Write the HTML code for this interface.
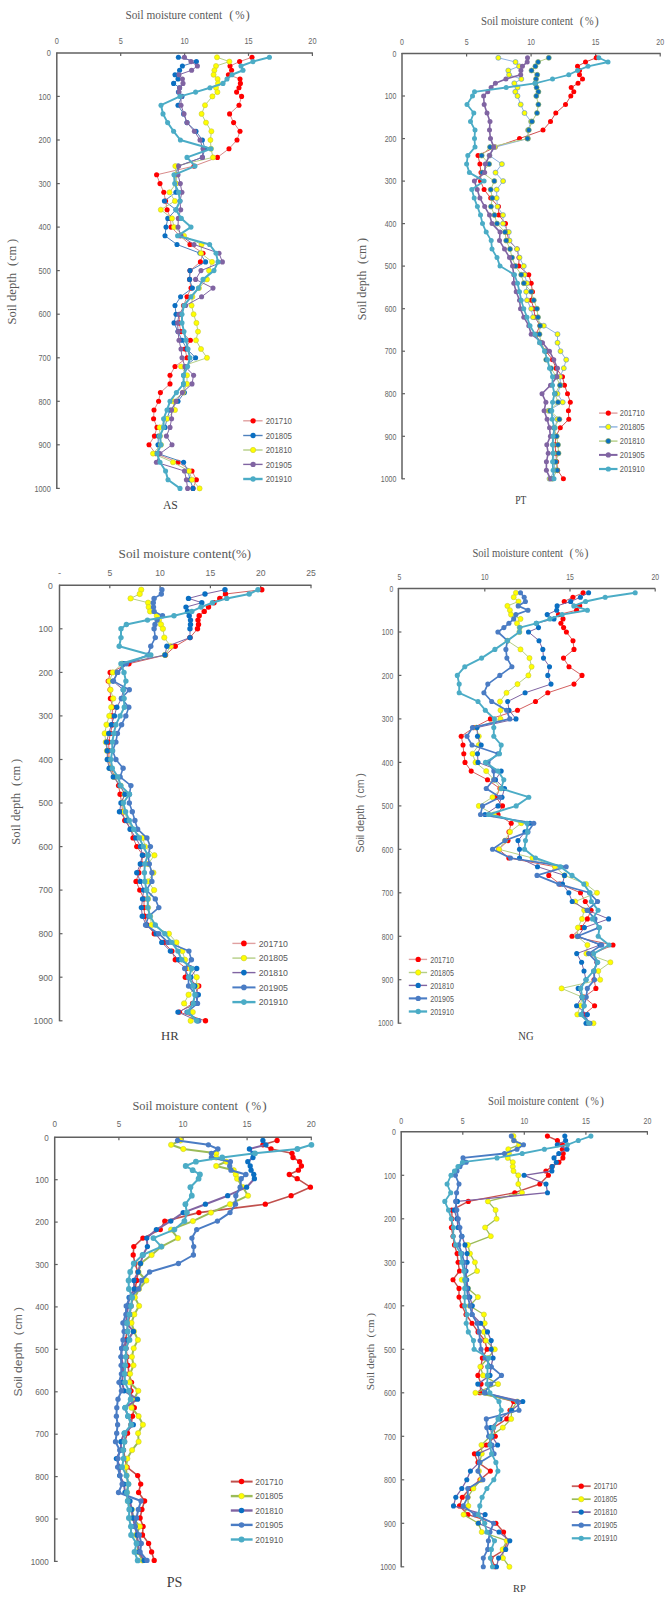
<!DOCTYPE html>
<html><head><meta charset="utf-8"><title>Soil moisture profiles</title>
<style>html,body{margin:0;padding:0;background:#fff;}body{width:665px;height:1600px;overflow:hidden;}svg{display:block;}</style>
</head><body>
<svg width="665" height="1600" viewBox="0 0 665 1600">
<rect width="665" height="1600" fill="#fff"/>
<text x="125.4" y="19.4" font-family='"Liberation Serif", serif' font-size="12.5" fill="#595959" textLength="96.7" lengthAdjust="spacingAndGlyphs">Soil moisture content</text>
<text y="19.4" font-family='"Liberation Serif", serif' font-size="12.8" fill="#595959"><tspan x="229.3">(</tspan><tspan x="235.2" textLength="9.3" lengthAdjust="spacingAndGlyphs">%</tspan><tspan x="245.6">)</tspan></text>
<line x1="56.3" y1="52.9" x2="312.9" y2="52.9" stroke="#606060" stroke-width="1.5"/>
<line x1="56.8" y1="52.4" x2="56.8" y2="488.9" stroke="#606060" stroke-width="1.5"/>
<text x="56.8" y="43.5" font-family='"Liberation Sans", sans-serif' font-size="8.9" fill="#666" text-anchor="middle" textLength="4.1" lengthAdjust="spacingAndGlyphs">0</text>
<line x1="120.7" y1="52.9" x2="120.7" y2="55.9" stroke="#606060" stroke-width="1.2"/>
<text x="120.7" y="43.5" font-family='"Liberation Sans", sans-serif' font-size="8.9" fill="#666" text-anchor="middle" textLength="4.1" lengthAdjust="spacingAndGlyphs">5</text>
<line x1="184.6" y1="52.9" x2="184.6" y2="55.9" stroke="#606060" stroke-width="1.2"/>
<text x="184.6" y="43.5" font-family='"Liberation Sans", sans-serif' font-size="8.9" fill="#666" text-anchor="middle" textLength="8.2" lengthAdjust="spacingAndGlyphs">10</text>
<line x1="248.5" y1="52.9" x2="248.5" y2="55.9" stroke="#606060" stroke-width="1.2"/>
<text x="248.5" y="43.5" font-family='"Liberation Sans", sans-serif' font-size="8.9" fill="#666" text-anchor="middle" textLength="8.2" lengthAdjust="spacingAndGlyphs">15</text>
<line x1="312.4" y1="52.9" x2="312.4" y2="55.9" stroke="#606060" stroke-width="1.2"/>
<text x="312.4" y="43.5" font-family='"Liberation Sans", sans-serif' font-size="8.9" fill="#666" text-anchor="middle" textLength="8.2" lengthAdjust="spacingAndGlyphs">20</text>
<text x="50.8" y="56.1" font-family='"Liberation Sans", sans-serif' font-size="8.9" fill="#666" text-anchor="end" textLength="4.1" lengthAdjust="spacingAndGlyphs">0</text>
<line x1="56.8" y1="96.4" x2="59.8" y2="96.4" stroke="#606060" stroke-width="1.2"/>
<text x="50.8" y="99.6" font-family='"Liberation Sans", sans-serif' font-size="8.9" fill="#666" text-anchor="end" textLength="12.3" lengthAdjust="spacingAndGlyphs">100</text>
<line x1="56.8" y1="140" x2="59.8" y2="140" stroke="#606060" stroke-width="1.2"/>
<text x="50.8" y="143.2" font-family='"Liberation Sans", sans-serif' font-size="8.9" fill="#666" text-anchor="end" textLength="12.3" lengthAdjust="spacingAndGlyphs">200</text>
<line x1="56.8" y1="183.6" x2="59.8" y2="183.6" stroke="#606060" stroke-width="1.2"/>
<text x="50.8" y="186.8" font-family='"Liberation Sans", sans-serif' font-size="8.9" fill="#666" text-anchor="end" textLength="12.3" lengthAdjust="spacingAndGlyphs">300</text>
<line x1="56.8" y1="227.1" x2="59.8" y2="227.1" stroke="#606060" stroke-width="1.2"/>
<text x="50.8" y="230.3" font-family='"Liberation Sans", sans-serif' font-size="8.9" fill="#666" text-anchor="end" textLength="12.3" lengthAdjust="spacingAndGlyphs">400</text>
<line x1="56.8" y1="270.6" x2="59.8" y2="270.6" stroke="#606060" stroke-width="1.2"/>
<text x="50.8" y="273.8" font-family='"Liberation Sans", sans-serif' font-size="8.9" fill="#666" text-anchor="end" textLength="12.3" lengthAdjust="spacingAndGlyphs">500</text>
<line x1="56.8" y1="314.2" x2="59.8" y2="314.2" stroke="#606060" stroke-width="1.2"/>
<text x="50.8" y="317.4" font-family='"Liberation Sans", sans-serif' font-size="8.9" fill="#666" text-anchor="end" textLength="12.3" lengthAdjust="spacingAndGlyphs">600</text>
<line x1="56.8" y1="357.8" x2="59.8" y2="357.8" stroke="#606060" stroke-width="1.2"/>
<text x="50.8" y="360.9" font-family='"Liberation Sans", sans-serif' font-size="8.9" fill="#666" text-anchor="end" textLength="12.3" lengthAdjust="spacingAndGlyphs">700</text>
<line x1="56.8" y1="401.3" x2="59.8" y2="401.3" stroke="#606060" stroke-width="1.2"/>
<text x="50.8" y="404.5" font-family='"Liberation Sans", sans-serif' font-size="8.9" fill="#666" text-anchor="end" textLength="12.3" lengthAdjust="spacingAndGlyphs">800</text>
<line x1="56.8" y1="444.8" x2="59.8" y2="444.8" stroke="#606060" stroke-width="1.2"/>
<text x="50.8" y="448" font-family='"Liberation Sans", sans-serif' font-size="8.9" fill="#666" text-anchor="end" textLength="12.3" lengthAdjust="spacingAndGlyphs">900</text>
<line x1="56.8" y1="488.4" x2="59.8" y2="488.4" stroke="#606060" stroke-width="1.2"/>
<text x="50.8" y="491.6" font-family='"Liberation Sans", sans-serif' font-size="8.9" fill="#666" text-anchor="end" textLength="16.4" lengthAdjust="spacingAndGlyphs">1000</text>
<g transform="translate(16.1,324.6) rotate(-90)" font-family='"Liberation Serif", serif' font-size="12.5" fill="#595959"><text x="0" y="0" textLength="51.7" lengthAdjust="spacingAndGlyphs">Soil depth</text><text x="58.6" y="0">(</text><text x="63.7" y="0" textLength="15" lengthAdjust="spacingAndGlyphs">cm</text><text x="81.6" y="0">)</text></g>
<text x="162.9" y="509" font-family='"Liberation Serif", serif' font-size="12.5" fill="#404040" textLength="15" lengthAdjust="spacingAndGlyphs">AS</text>
<polyline points="252,57.3 239.6,61.6 230,66 231.6,70.3 228.4,74.7 240,79 240.4,83.4 239,87.7 236.6,92.1 241.6,96.4 239,105.2 229.6,113.9 233.6,122.6 240,131.3 237,140 229,148.7 217.4,157.4 194,166.1 156.6,174.8 160,183.6 163.8,192.3 165.6,201 167.1,209.7 170.5,218.4 171,227.1 180,235.8 190,244.5 203,253.2 200.4,261.9 190,270.6 189.6,279.4 191,288.1 187,296.8 183.5,305.5 180,314.2 179,322.9 181,331.6 190.4,340.3 185,349 187,357.8 175,366.5 170,375.2 170,383.9 160.4,392.6 158.6,401.3 154,410 153.6,418.7 157,427.4 154.4,436.1 149,444.8 155.6,453.6 178,462.3 192,471 196.4,479.7 193,488.4" fill="none" stroke="#D88A8A" stroke-width="1" stroke-linejoin="round"/>
<g fill="#FF0000"><circle cx="252" cy="57.3" r="2.55"/><circle cx="239.6" cy="61.6" r="2.55"/><circle cx="230" cy="66" r="2.55"/><circle cx="231.6" cy="70.3" r="2.55"/><circle cx="228.4" cy="74.7" r="2.55"/><circle cx="240" cy="79" r="2.55"/><circle cx="240.4" cy="83.4" r="2.55"/><circle cx="239" cy="87.7" r="2.55"/><circle cx="236.6" cy="92.1" r="2.55"/><circle cx="241.6" cy="96.4" r="2.55"/><circle cx="239" cy="105.2" r="2.55"/><circle cx="229.6" cy="113.9" r="2.55"/><circle cx="233.6" cy="122.6" r="2.55"/><circle cx="240" cy="131.3" r="2.55"/><circle cx="237" cy="140" r="2.55"/><circle cx="229" cy="148.7" r="2.55"/><circle cx="217.4" cy="157.4" r="2.55"/><circle cx="194" cy="166.1" r="2.55"/><circle cx="156.6" cy="174.8" r="2.55"/><circle cx="160" cy="183.6" r="2.55"/><circle cx="163.8" cy="192.3" r="2.55"/><circle cx="165.6" cy="201" r="2.55"/><circle cx="167.1" cy="209.7" r="2.55"/><circle cx="170.5" cy="218.4" r="2.55"/><circle cx="171" cy="227.1" r="2.55"/><circle cx="180" cy="235.8" r="2.55"/><circle cx="190" cy="244.5" r="2.55"/><circle cx="203" cy="253.2" r="2.55"/><circle cx="200.4" cy="261.9" r="2.55"/><circle cx="190" cy="270.6" r="2.55"/><circle cx="189.6" cy="279.4" r="2.55"/><circle cx="191" cy="288.1" r="2.55"/><circle cx="187" cy="296.8" r="2.55"/><circle cx="183.5" cy="305.5" r="2.55"/><circle cx="180" cy="314.2" r="2.55"/><circle cx="179" cy="322.9" r="2.55"/><circle cx="181" cy="331.6" r="2.55"/><circle cx="190.4" cy="340.3" r="2.55"/><circle cx="185" cy="349" r="2.55"/><circle cx="187" cy="357.8" r="2.55"/><circle cx="175" cy="366.5" r="2.55"/><circle cx="170" cy="375.2" r="2.55"/><circle cx="170" cy="383.9" r="2.55"/><circle cx="160.4" cy="392.6" r="2.55"/><circle cx="158.6" cy="401.3" r="2.55"/><circle cx="154" cy="410" r="2.55"/><circle cx="153.6" cy="418.7" r="2.55"/><circle cx="157" cy="427.4" r="2.55"/><circle cx="154.4" cy="436.1" r="2.55"/><circle cx="149" cy="444.8" r="2.55"/><circle cx="155.6" cy="453.6" r="2.55"/><circle cx="178" cy="462.3" r="2.55"/><circle cx="192" cy="471" r="2.55"/><circle cx="196.4" cy="479.7" r="2.55"/><circle cx="193" cy="488.4" r="2.55"/></g>
<polyline points="178.4,57.3 196.4,61.6 182.4,66 179.6,70.3 175,74.7 178,79 173.6,83.4 179.6,87.7 178.4,92.1 182,96.4 178,105.2 183.6,113.9 187,122.6 196,131.3 202.4,140 205,148.7 202.4,157.4 178,166.1 176,174.8 176,183.6 175.9,192.3 164.4,201 176,209.7 167.8,218.4 166,227.1 165,235.8 177,244.5 200,253.2 205.6,261.9 190,270.6 189.6,279.4 192.4,288.1 180.6,296.8 175,305.5 176,314.2 174,322.9 178,331.6 182,340.3 187,349 195.6,357.8 185,366.5 183.6,375.2 183.6,383.9 184.4,392.6 178,401.3 170,410 167,418.7 165,427.4 158.4,436.1 158,444.8 158,453.6 183.6,462.3 188,471 190,479.7 193,488.4" fill="none" stroke="#4F81BD" stroke-width="1" stroke-linejoin="round"/>
<g fill="#0A6FC2"><circle cx="178.4" cy="57.3" r="2.55"/><circle cx="196.4" cy="61.6" r="2.55"/><circle cx="182.4" cy="66" r="2.55"/><circle cx="179.6" cy="70.3" r="2.55"/><circle cx="175" cy="74.7" r="2.55"/><circle cx="178" cy="79" r="2.55"/><circle cx="173.6" cy="83.4" r="2.55"/><circle cx="179.6" cy="87.7" r="2.55"/><circle cx="178.4" cy="92.1" r="2.55"/><circle cx="182" cy="96.4" r="2.55"/><circle cx="178" cy="105.2" r="2.55"/><circle cx="183.6" cy="113.9" r="2.55"/><circle cx="187" cy="122.6" r="2.55"/><circle cx="196" cy="131.3" r="2.55"/><circle cx="202.4" cy="140" r="2.55"/><circle cx="205" cy="148.7" r="2.55"/><circle cx="202.4" cy="157.4" r="2.55"/><circle cx="178" cy="166.1" r="2.55"/><circle cx="176" cy="174.8" r="2.55"/><circle cx="176" cy="183.6" r="2.55"/><circle cx="175.9" cy="192.3" r="2.55"/><circle cx="164.4" cy="201" r="2.55"/><circle cx="176" cy="209.7" r="2.55"/><circle cx="167.8" cy="218.4" r="2.55"/><circle cx="166" cy="227.1" r="2.55"/><circle cx="165" cy="235.8" r="2.55"/><circle cx="177" cy="244.5" r="2.55"/><circle cx="200" cy="253.2" r="2.55"/><circle cx="205.6" cy="261.9" r="2.55"/><circle cx="190" cy="270.6" r="2.55"/><circle cx="189.6" cy="279.4" r="2.55"/><circle cx="192.4" cy="288.1" r="2.55"/><circle cx="180.6" cy="296.8" r="2.55"/><circle cx="175" cy="305.5" r="2.55"/><circle cx="176" cy="314.2" r="2.55"/><circle cx="174" cy="322.9" r="2.55"/><circle cx="178" cy="331.6" r="2.55"/><circle cx="182" cy="340.3" r="2.55"/><circle cx="187" cy="349" r="2.55"/><circle cx="195.6" cy="357.8" r="2.55"/><circle cx="185" cy="366.5" r="2.55"/><circle cx="183.6" cy="375.2" r="2.55"/><circle cx="183.6" cy="383.9" r="2.55"/><circle cx="184.4" cy="392.6" r="2.55"/><circle cx="178" cy="401.3" r="2.55"/><circle cx="170" cy="410" r="2.55"/><circle cx="167" cy="418.7" r="2.55"/><circle cx="165" cy="427.4" r="2.55"/><circle cx="158.4" cy="436.1" r="2.55"/><circle cx="158" cy="444.8" r="2.55"/><circle cx="158" cy="453.6" r="2.55"/><circle cx="183.6" cy="462.3" r="2.55"/><circle cx="188" cy="471" r="2.55"/><circle cx="190" cy="479.7" r="2.55"/><circle cx="193" cy="488.4" r="2.55"/></g>
<polyline points="217,57.3 229.4,61.6 216,66 214.4,70.3 213.6,74.7 217.6,79 218,83.4 216,87.7 217.4,92.1 212.4,96.4 205,105.2 201.6,113.9 206,122.6 211.4,131.3 210.4,140 211,148.7 213,157.4 175.3,166.1 176,174.8 176,183.6 169.5,192.3 174.9,201 160.8,209.7 172,218.4 174,227.1 184,235.8 201.6,244.5 201,253.2 212,261.9 209,270.6 207,279.4 199,288.1 192.4,296.8 191.6,305.5 193.6,314.2 196.4,322.9 198,331.6 196,340.3 201,349 207,357.8 181,366.5 187,375.2 187,383.9 183,392.6 173,401.3 175,410 167,418.7 159.6,427.4 160,436.1 161,444.8 153,453.6 173,462.3 189,471 192,479.7 199.6,488.4" fill="none" stroke="#B5CF86" stroke-width="1" stroke-linejoin="round"/>
<g fill="#FFFF00" stroke="#C9C93A" stroke-width="0.6"><circle cx="217" cy="57.3" r="2.55"/><circle cx="229.4" cy="61.6" r="2.55"/><circle cx="216" cy="66" r="2.55"/><circle cx="214.4" cy="70.3" r="2.55"/><circle cx="213.6" cy="74.7" r="2.55"/><circle cx="217.6" cy="79" r="2.55"/><circle cx="218" cy="83.4" r="2.55"/><circle cx="216" cy="87.7" r="2.55"/><circle cx="217.4" cy="92.1" r="2.55"/><circle cx="212.4" cy="96.4" r="2.55"/><circle cx="205" cy="105.2" r="2.55"/><circle cx="201.6" cy="113.9" r="2.55"/><circle cx="206" cy="122.6" r="2.55"/><circle cx="211.4" cy="131.3" r="2.55"/><circle cx="210.4" cy="140" r="2.55"/><circle cx="211" cy="148.7" r="2.55"/><circle cx="213" cy="157.4" r="2.55"/><circle cx="175.3" cy="166.1" r="2.55"/><circle cx="176" cy="174.8" r="2.55"/><circle cx="176" cy="183.6" r="2.55"/><circle cx="169.5" cy="192.3" r="2.55"/><circle cx="174.9" cy="201" r="2.55"/><circle cx="160.8" cy="209.7" r="2.55"/><circle cx="172" cy="218.4" r="2.55"/><circle cx="174" cy="227.1" r="2.55"/><circle cx="184" cy="235.8" r="2.55"/><circle cx="201.6" cy="244.5" r="2.55"/><circle cx="201" cy="253.2" r="2.55"/><circle cx="212" cy="261.9" r="2.55"/><circle cx="209" cy="270.6" r="2.55"/><circle cx="207" cy="279.4" r="2.55"/><circle cx="199" cy="288.1" r="2.55"/><circle cx="192.4" cy="296.8" r="2.55"/><circle cx="191.6" cy="305.5" r="2.55"/><circle cx="193.6" cy="314.2" r="2.55"/><circle cx="196.4" cy="322.9" r="2.55"/><circle cx="198" cy="331.6" r="2.55"/><circle cx="196" cy="340.3" r="2.55"/><circle cx="201" cy="349" r="2.55"/><circle cx="207" cy="357.8" r="2.55"/><circle cx="181" cy="366.5" r="2.55"/><circle cx="187" cy="375.2" r="2.55"/><circle cx="187" cy="383.9" r="2.55"/><circle cx="183" cy="392.6" r="2.55"/><circle cx="173" cy="401.3" r="2.55"/><circle cx="175" cy="410" r="2.55"/><circle cx="167" cy="418.7" r="2.55"/><circle cx="159.6" cy="427.4" r="2.55"/><circle cx="160" cy="436.1" r="2.55"/><circle cx="161" cy="444.8" r="2.55"/><circle cx="153" cy="453.6" r="2.55"/><circle cx="173" cy="462.3" r="2.55"/><circle cx="189" cy="471" r="2.55"/><circle cx="192" cy="479.7" r="2.55"/><circle cx="199.6" cy="488.4" r="2.55"/></g>
<polyline points="184.4,57.3 191,61.6 197.4,66 191.6,70.3 179,74.7 182.4,79 183,83.4 179.6,87.7 179,92.1 181,96.4 181,105.2 184,113.9 187,122.6 194.4,131.3 200,140 203,148.7 202.4,157.4 178.6,166.1 178,174.8 180.3,183.6 181.9,192.3 180,201 180.7,209.7 178.3,218.4 178,227.1 181,235.8 194,244.5 219,253.2 222.4,261.9 201,270.6 195.6,279.4 213,288.1 201.6,296.8 185.6,305.5 179,314.2 177.6,322.9 178,331.6 179,340.3 181,349 182,357.8 185,366.5 193.6,375.2 192,383.9 182.4,392.6 176,401.3 171.6,410 171.6,418.7 170,427.4 166.4,436.1 172,444.8 160,453.6 156.4,462.3 184.4,471 186.4,479.7 187.6,488.4" fill="none" stroke="#8064A2" stroke-width="1" stroke-linejoin="round"/>
<g fill="#8064A2"><circle cx="184.4" cy="57.3" r="2.55"/><circle cx="191" cy="61.6" r="2.55"/><circle cx="197.4" cy="66" r="2.55"/><circle cx="191.6" cy="70.3" r="2.55"/><circle cx="179" cy="74.7" r="2.55"/><circle cx="182.4" cy="79" r="2.55"/><circle cx="183" cy="83.4" r="2.55"/><circle cx="179.6" cy="87.7" r="2.55"/><circle cx="179" cy="92.1" r="2.55"/><circle cx="181" cy="96.4" r="2.55"/><circle cx="181" cy="105.2" r="2.55"/><circle cx="184" cy="113.9" r="2.55"/><circle cx="187" cy="122.6" r="2.55"/><circle cx="194.4" cy="131.3" r="2.55"/><circle cx="200" cy="140" r="2.55"/><circle cx="203" cy="148.7" r="2.55"/><circle cx="202.4" cy="157.4" r="2.55"/><circle cx="178.6" cy="166.1" r="2.55"/><circle cx="178" cy="174.8" r="2.55"/><circle cx="180.3" cy="183.6" r="2.55"/><circle cx="181.9" cy="192.3" r="2.55"/><circle cx="180" cy="201" r="2.55"/><circle cx="180.7" cy="209.7" r="2.55"/><circle cx="178.3" cy="218.4" r="2.55"/><circle cx="178" cy="227.1" r="2.55"/><circle cx="181" cy="235.8" r="2.55"/><circle cx="194" cy="244.5" r="2.55"/><circle cx="219" cy="253.2" r="2.55"/><circle cx="222.4" cy="261.9" r="2.55"/><circle cx="201" cy="270.6" r="2.55"/><circle cx="195.6" cy="279.4" r="2.55"/><circle cx="213" cy="288.1" r="2.55"/><circle cx="201.6" cy="296.8" r="2.55"/><circle cx="185.6" cy="305.5" r="2.55"/><circle cx="179" cy="314.2" r="2.55"/><circle cx="177.6" cy="322.9" r="2.55"/><circle cx="178" cy="331.6" r="2.55"/><circle cx="179" cy="340.3" r="2.55"/><circle cx="181" cy="349" r="2.55"/><circle cx="182" cy="357.8" r="2.55"/><circle cx="185" cy="366.5" r="2.55"/><circle cx="193.6" cy="375.2" r="2.55"/><circle cx="192" cy="383.9" r="2.55"/><circle cx="182.4" cy="392.6" r="2.55"/><circle cx="176" cy="401.3" r="2.55"/><circle cx="171.6" cy="410" r="2.55"/><circle cx="171.6" cy="418.7" r="2.55"/><circle cx="170" cy="427.4" r="2.55"/><circle cx="166.4" cy="436.1" r="2.55"/><circle cx="172" cy="444.8" r="2.55"/><circle cx="160" cy="453.6" r="2.55"/><circle cx="156.4" cy="462.3" r="2.55"/><circle cx="184.4" cy="471" r="2.55"/><circle cx="186.4" cy="479.7" r="2.55"/><circle cx="187.6" cy="488.4" r="2.55"/></g>
<polyline points="269.4,57.3 253,61.6 241,66 243,70.3 232,74.7 227,79 223,83.4 210,87.7 195.6,92.1 180,96.4 161,105.2 163,113.9 167.6,122.6 173.6,131.3 180.4,140 211,148.7 187,157.4 195,166.1 174,174.8 174.7,183.6 178.6,192.3 180,201 175.9,209.7 181.3,218.4 191,227.1 177.6,235.8 209.6,244.5 216,253.2 218,261.9 214,270.6 203,279.4 198.4,288.1 191,296.8 184,305.5 182,314.2 182,322.9 184,331.6 186,340.3 188,349 190,357.8 187.6,366.5 183.6,375.2 183.6,383.9 176.4,392.6 170,401.3 167,410 163.6,418.7 163.6,427.4 160,436.1 161,444.8 157,453.6 160,462.3 165.6,471 168,479.7 180,488.4" fill="none" stroke="#4BACC6" stroke-width="2" stroke-linejoin="round"/>
<g fill="#4BACC6"><circle cx="269.4" cy="57.3" r="2.55"/><circle cx="253" cy="61.6" r="2.55"/><circle cx="241" cy="66" r="2.55"/><circle cx="243" cy="70.3" r="2.55"/><circle cx="232" cy="74.7" r="2.55"/><circle cx="227" cy="79" r="2.55"/><circle cx="223" cy="83.4" r="2.55"/><circle cx="210" cy="87.7" r="2.55"/><circle cx="195.6" cy="92.1" r="2.55"/><circle cx="180" cy="96.4" r="2.55"/><circle cx="161" cy="105.2" r="2.55"/><circle cx="163" cy="113.9" r="2.55"/><circle cx="167.6" cy="122.6" r="2.55"/><circle cx="173.6" cy="131.3" r="2.55"/><circle cx="180.4" cy="140" r="2.55"/><circle cx="211" cy="148.7" r="2.55"/><circle cx="187" cy="157.4" r="2.55"/><circle cx="195" cy="166.1" r="2.55"/><circle cx="174" cy="174.8" r="2.55"/><circle cx="174.7" cy="183.6" r="2.55"/><circle cx="178.6" cy="192.3" r="2.55"/><circle cx="180" cy="201" r="2.55"/><circle cx="175.9" cy="209.7" r="2.55"/><circle cx="181.3" cy="218.4" r="2.55"/><circle cx="191" cy="227.1" r="2.55"/><circle cx="177.6" cy="235.8" r="2.55"/><circle cx="209.6" cy="244.5" r="2.55"/><circle cx="216" cy="253.2" r="2.55"/><circle cx="218" cy="261.9" r="2.55"/><circle cx="214" cy="270.6" r="2.55"/><circle cx="203" cy="279.4" r="2.55"/><circle cx="198.4" cy="288.1" r="2.55"/><circle cx="191" cy="296.8" r="2.55"/><circle cx="184" cy="305.5" r="2.55"/><circle cx="182" cy="314.2" r="2.55"/><circle cx="182" cy="322.9" r="2.55"/><circle cx="184" cy="331.6" r="2.55"/><circle cx="186" cy="340.3" r="2.55"/><circle cx="188" cy="349" r="2.55"/><circle cx="190" cy="357.8" r="2.55"/><circle cx="187.6" cy="366.5" r="2.55"/><circle cx="183.6" cy="375.2" r="2.55"/><circle cx="183.6" cy="383.9" r="2.55"/><circle cx="176.4" cy="392.6" r="2.55"/><circle cx="170" cy="401.3" r="2.55"/><circle cx="167" cy="410" r="2.55"/><circle cx="163.6" cy="418.7" r="2.55"/><circle cx="163.6" cy="427.4" r="2.55"/><circle cx="160" cy="436.1" r="2.55"/><circle cx="161" cy="444.8" r="2.55"/><circle cx="157" cy="453.6" r="2.55"/><circle cx="160" cy="462.3" r="2.55"/><circle cx="165.6" cy="471" r="2.55"/><circle cx="168" cy="479.7" r="2.55"/><circle cx="180" cy="488.4" r="2.55"/></g>
<line x1="243.2" y1="420.8" x2="262.6" y2="420.8" stroke="#E0A0A0" stroke-width="1.4"/>
<circle cx="253.1" cy="420.8" r="2.65" fill="#FF0000"/>
<text x="265.7" y="423.9" font-family='"Liberation Sans", sans-serif' font-size="9" fill="#595959" textLength="26.2" lengthAdjust="spacingAndGlyphs">201710</text>
<line x1="243.2" y1="435.5" x2="262.6" y2="435.5" stroke="#4F81BD" stroke-width="1.4"/>
<circle cx="253.1" cy="435.5" r="2.65" fill="#0A6FC2"/>
<text x="265.7" y="438.6" font-family='"Liberation Sans", sans-serif' font-size="9" fill="#595959" textLength="26.2" lengthAdjust="spacingAndGlyphs">201805</text>
<line x1="243.2" y1="450" x2="262.6" y2="450" stroke="#B5CF86" stroke-width="1.4"/>
<circle cx="253.1" cy="450" r="2.65" fill="#FFFF00" stroke="#C9C93A" stroke-width="0.6"/>
<text x="265.7" y="453.1" font-family='"Liberation Sans", sans-serif' font-size="9" fill="#595959" textLength="26.2" lengthAdjust="spacingAndGlyphs">201810</text>
<line x1="243.2" y1="464.4" x2="262.6" y2="464.4" stroke="#8064A2" stroke-width="1.4"/>
<circle cx="253.1" cy="464.4" r="2.65" fill="#8064A2"/>
<text x="265.7" y="467.5" font-family='"Liberation Sans", sans-serif' font-size="9" fill="#595959" textLength="26.2" lengthAdjust="spacingAndGlyphs">201905</text>
<line x1="243.2" y1="479" x2="262.6" y2="479" stroke="#4BACC6" stroke-width="2.4"/>
<circle cx="253.1" cy="479" r="2.65" fill="#4BACC6"/>
<text x="265.7" y="482.1" font-family='"Liberation Sans", sans-serif' font-size="9" fill="#595959" textLength="26.2" lengthAdjust="spacingAndGlyphs">201910</text>
<text x="481" y="25" font-family='"Liberation Serif", serif' font-size="11.7" fill="#595959" textLength="92" lengthAdjust="spacingAndGlyphs">Soil moisture content</text>
<text y="25" font-family='"Liberation Serif", serif' font-size="11.9" fill="#595959"><tspan x="579.7">(</tspan><tspan x="585.1" textLength="8.6" lengthAdjust="spacingAndGlyphs">%</tspan><tspan x="594.8">)</tspan></text>
<line x1="401.5" y1="53.5" x2="660.7" y2="53.5" stroke="#606060" stroke-width="1.5"/>
<line x1="402" y1="53" x2="402" y2="479.3" stroke="#606060" stroke-width="1.5"/>
<text x="402" y="44.5" font-family='"Liberation Sans", sans-serif' font-size="8.6" fill="#666" text-anchor="middle" textLength="3.9" lengthAdjust="spacingAndGlyphs">0</text>
<line x1="466.6" y1="53.5" x2="466.6" y2="56.5" stroke="#606060" stroke-width="1.2"/>
<text x="466.6" y="44.5" font-family='"Liberation Sans", sans-serif' font-size="8.6" fill="#666" text-anchor="middle" textLength="3.9" lengthAdjust="spacingAndGlyphs">5</text>
<line x1="531.1" y1="53.5" x2="531.1" y2="56.5" stroke="#606060" stroke-width="1.2"/>
<text x="531.1" y="44.5" font-family='"Liberation Sans", sans-serif' font-size="8.6" fill="#666" text-anchor="middle" textLength="7.8" lengthAdjust="spacingAndGlyphs">10</text>
<line x1="595.6" y1="53.5" x2="595.6" y2="56.5" stroke="#606060" stroke-width="1.2"/>
<text x="595.6" y="44.5" font-family='"Liberation Sans", sans-serif' font-size="8.6" fill="#666" text-anchor="middle" textLength="7.8" lengthAdjust="spacingAndGlyphs">15</text>
<line x1="660.2" y1="53.5" x2="660.2" y2="56.5" stroke="#606060" stroke-width="1.2"/>
<text x="660.2" y="44.5" font-family='"Liberation Sans", sans-serif' font-size="8.6" fill="#666" text-anchor="middle" textLength="7.8" lengthAdjust="spacingAndGlyphs">20</text>
<text x="396.4" y="56.7" font-family='"Liberation Sans", sans-serif' font-size="8.6" fill="#666" text-anchor="end" textLength="3.9" lengthAdjust="spacingAndGlyphs">0</text>
<line x1="402" y1="96" x2="405" y2="96" stroke="#606060" stroke-width="1.2"/>
<text x="396.4" y="99.2" font-family='"Liberation Sans", sans-serif' font-size="8.6" fill="#666" text-anchor="end" textLength="11.7" lengthAdjust="spacingAndGlyphs">100</text>
<line x1="402" y1="138.6" x2="405" y2="138.6" stroke="#606060" stroke-width="1.2"/>
<text x="396.4" y="141.8" font-family='"Liberation Sans", sans-serif' font-size="8.6" fill="#666" text-anchor="end" textLength="11.7" lengthAdjust="spacingAndGlyphs">200</text>
<line x1="402" y1="181.1" x2="405" y2="181.1" stroke="#606060" stroke-width="1.2"/>
<text x="396.4" y="184.3" font-family='"Liberation Sans", sans-serif' font-size="8.6" fill="#666" text-anchor="end" textLength="11.7" lengthAdjust="spacingAndGlyphs">300</text>
<line x1="402" y1="223.6" x2="405" y2="223.6" stroke="#606060" stroke-width="1.2"/>
<text x="396.4" y="226.8" font-family='"Liberation Sans", sans-serif' font-size="8.6" fill="#666" text-anchor="end" textLength="11.7" lengthAdjust="spacingAndGlyphs">400</text>
<line x1="402" y1="266.1" x2="405" y2="266.1" stroke="#606060" stroke-width="1.2"/>
<text x="396.4" y="269.3" font-family='"Liberation Sans", sans-serif' font-size="8.6" fill="#666" text-anchor="end" textLength="11.7" lengthAdjust="spacingAndGlyphs">500</text>
<line x1="402" y1="308.7" x2="405" y2="308.7" stroke="#606060" stroke-width="1.2"/>
<text x="396.4" y="311.9" font-family='"Liberation Sans", sans-serif' font-size="8.6" fill="#666" text-anchor="end" textLength="11.7" lengthAdjust="spacingAndGlyphs">600</text>
<line x1="402" y1="351.2" x2="405" y2="351.2" stroke="#606060" stroke-width="1.2"/>
<text x="396.4" y="354.4" font-family='"Liberation Sans", sans-serif' font-size="8.6" fill="#666" text-anchor="end" textLength="11.7" lengthAdjust="spacingAndGlyphs">700</text>
<line x1="402" y1="393.7" x2="405" y2="393.7" stroke="#606060" stroke-width="1.2"/>
<text x="396.4" y="396.9" font-family='"Liberation Sans", sans-serif' font-size="8.6" fill="#666" text-anchor="end" textLength="11.7" lengthAdjust="spacingAndGlyphs">800</text>
<line x1="402" y1="436.3" x2="405" y2="436.3" stroke="#606060" stroke-width="1.2"/>
<text x="396.4" y="439.5" font-family='"Liberation Sans", sans-serif' font-size="8.6" fill="#666" text-anchor="end" textLength="11.7" lengthAdjust="spacingAndGlyphs">900</text>
<line x1="402" y1="478.8" x2="405" y2="478.8" stroke="#606060" stroke-width="1.2"/>
<text x="396.4" y="482" font-family='"Liberation Sans", sans-serif' font-size="8.6" fill="#666" text-anchor="end" textLength="15.6" lengthAdjust="spacingAndGlyphs">1000</text>
<g transform="translate(365.9,320.2) rotate(-90)" font-family='"Liberation Serif", serif' font-size="12" fill="#595959"><text x="0" y="0" textLength="49.5" lengthAdjust="spacingAndGlyphs">Soil depth</text><text x="56.1" y="0">(</text><text x="61" y="0" textLength="14.4" lengthAdjust="spacingAndGlyphs">cm</text><text x="78.1" y="0">)</text></g>
<text x="515.3" y="504" font-family='"Liberation Serif", serif' font-size="11.5" fill="#404040" textLength="11" lengthAdjust="spacingAndGlyphs">PT</text>
<polyline points="596.2,57.8 585.5,62 577.5,66.3 579.5,70.5 579.5,74.8 582.5,79 578,83.3 571.2,87.5 573.8,91.8 570.8,96 565.5,104.5 555.8,113 550.5,121.5 543,130.1 519.5,138.6 495,147.1 478,155.6 479.9,164.1 481,172.6 480.5,181.1 484.1,189.6 490.7,198.1 498.5,206.6 498.8,215.1 505.5,223.6 507,232.1 508.8,240.6 517,249.1 519,257.6 518.8,266.1 528.8,274.7 531.2,283.2 532.5,291.7 531.2,300.2 533.8,308.7 535,317.2 540,325.7 536,334.2 540,342.7 546,351.2 552.5,359.7 556,368.2 562.5,376.7 564.5,385.2 567.5,393.7 570.3,402.2 568.4,410.8 568.8,419.3 560.3,427.8 555.8,436.3 555,444.8 555.8,453.3 556.7,461.8 557.6,470.3 563.4,478.8" fill="none" stroke="#D05050" stroke-width="1" stroke-linejoin="round"/>
<g fill="#FF0000"><circle cx="596.2" cy="57.8" r="2.5"/><circle cx="585.5" cy="62" r="2.5"/><circle cx="577.5" cy="66.3" r="2.5"/><circle cx="579.5" cy="70.5" r="2.5"/><circle cx="579.5" cy="74.8" r="2.5"/><circle cx="582.5" cy="79" r="2.5"/><circle cx="578" cy="83.3" r="2.5"/><circle cx="571.2" cy="87.5" r="2.5"/><circle cx="573.8" cy="91.8" r="2.5"/><circle cx="570.8" cy="96" r="2.5"/><circle cx="565.5" cy="104.5" r="2.5"/><circle cx="555.8" cy="113" r="2.5"/><circle cx="550.5" cy="121.5" r="2.5"/><circle cx="543" cy="130.1" r="2.5"/><circle cx="519.5" cy="138.6" r="2.5"/><circle cx="495" cy="147.1" r="2.5"/><circle cx="478" cy="155.6" r="2.5"/><circle cx="479.9" cy="164.1" r="2.5"/><circle cx="481" cy="172.6" r="2.5"/><circle cx="480.5" cy="181.1" r="2.5"/><circle cx="484.1" cy="189.6" r="2.5"/><circle cx="490.7" cy="198.1" r="2.5"/><circle cx="498.5" cy="206.6" r="2.5"/><circle cx="498.8" cy="215.1" r="2.5"/><circle cx="505.5" cy="223.6" r="2.5"/><circle cx="507" cy="232.1" r="2.5"/><circle cx="508.8" cy="240.6" r="2.5"/><circle cx="517" cy="249.1" r="2.5"/><circle cx="519" cy="257.6" r="2.5"/><circle cx="518.8" cy="266.1" r="2.5"/><circle cx="528.8" cy="274.7" r="2.5"/><circle cx="531.2" cy="283.2" r="2.5"/><circle cx="532.5" cy="291.7" r="2.5"/><circle cx="531.2" cy="300.2" r="2.5"/><circle cx="533.8" cy="308.7" r="2.5"/><circle cx="535" cy="317.2" r="2.5"/><circle cx="540" cy="325.7" r="2.5"/><circle cx="536" cy="334.2" r="2.5"/><circle cx="540" cy="342.7" r="2.5"/><circle cx="546" cy="351.2" r="2.5"/><circle cx="552.5" cy="359.7" r="2.5"/><circle cx="556" cy="368.2" r="2.5"/><circle cx="562.5" cy="376.7" r="2.5"/><circle cx="564.5" cy="385.2" r="2.5"/><circle cx="567.5" cy="393.7" r="2.5"/><circle cx="570.3" cy="402.2" r="2.5"/><circle cx="568.4" cy="410.8" r="2.5"/><circle cx="568.8" cy="419.3" r="2.5"/><circle cx="560.3" cy="427.8" r="2.5"/><circle cx="555.8" cy="436.3" r="2.5"/><circle cx="555" cy="444.8" r="2.5"/><circle cx="555.8" cy="453.3" r="2.5"/><circle cx="556.7" cy="461.8" r="2.5"/><circle cx="557.6" cy="470.3" r="2.5"/><circle cx="563.4" cy="478.8" r="2.5"/></g>
<polyline points="498.3,57.8 515.5,62 519.1,66.3 508.3,70.5 509.1,74.8 521.3,79 514.3,83.3 517.5,87.5 515.3,91.8 517.5,96 520.7,104.5 524.5,113 531,121.5 528,130.1 528,138.6 495,147.1 489.5,155.6 501.9,164.1 495.5,172.6 503.1,181.1 496.7,189.6 496.7,198.1 497.5,206.6 503,215.1 503,223.6 508.8,232.1 509.5,240.6 517,249.1 519.5,257.6 523.8,266.1 524.5,274.7 527,283.2 526.2,291.7 527,300.2 531.2,308.7 533,317.2 543.8,325.7 557.5,334.2 557.5,342.7 560.5,351.2 566.2,359.7 563.8,368.2 560,376.7 560.5,385.2 557.5,393.7 562.7,402.2 548.2,410.8 557.3,419.3 555,427.8 554,436.3 553,444.8 553.5,453.3 554,461.8 555,470.3 549.5,478.8" fill="none" stroke="#8DB3E2" stroke-width="1" stroke-linejoin="round"/>
<g fill="#FFFF00" stroke="#5B8BD0" stroke-width="0.6"><circle cx="498.3" cy="57.8" r="2.5"/><circle cx="515.5" cy="62" r="2.5"/><circle cx="519.1" cy="66.3" r="2.5"/><circle cx="508.3" cy="70.5" r="2.5"/><circle cx="509.1" cy="74.8" r="2.5"/><circle cx="521.3" cy="79" r="2.5"/><circle cx="514.3" cy="83.3" r="2.5"/><circle cx="517.5" cy="87.5" r="2.5"/><circle cx="515.3" cy="91.8" r="2.5"/><circle cx="517.5" cy="96" r="2.5"/><circle cx="520.7" cy="104.5" r="2.5"/><circle cx="524.5" cy="113" r="2.5"/><circle cx="531" cy="121.5" r="2.5"/><circle cx="528" cy="130.1" r="2.5"/><circle cx="528" cy="138.6" r="2.5"/><circle cx="495" cy="147.1" r="2.5"/><circle cx="489.5" cy="155.6" r="2.5"/><circle cx="501.9" cy="164.1" r="2.5"/><circle cx="495.5" cy="172.6" r="2.5"/><circle cx="503.1" cy="181.1" r="2.5"/><circle cx="496.7" cy="189.6" r="2.5"/><circle cx="496.7" cy="198.1" r="2.5"/><circle cx="497.5" cy="206.6" r="2.5"/><circle cx="503" cy="215.1" r="2.5"/><circle cx="503" cy="223.6" r="2.5"/><circle cx="508.8" cy="232.1" r="2.5"/><circle cx="509.5" cy="240.6" r="2.5"/><circle cx="517" cy="249.1" r="2.5"/><circle cx="519.5" cy="257.6" r="2.5"/><circle cx="523.8" cy="266.1" r="2.5"/><circle cx="524.5" cy="274.7" r="2.5"/><circle cx="527" cy="283.2" r="2.5"/><circle cx="526.2" cy="291.7" r="2.5"/><circle cx="527" cy="300.2" r="2.5"/><circle cx="531.2" cy="308.7" r="2.5"/><circle cx="533" cy="317.2" r="2.5"/><circle cx="543.8" cy="325.7" r="2.5"/><circle cx="557.5" cy="334.2" r="2.5"/><circle cx="557.5" cy="342.7" r="2.5"/><circle cx="560.5" cy="351.2" r="2.5"/><circle cx="566.2" cy="359.7" r="2.5"/><circle cx="563.8" cy="368.2" r="2.5"/><circle cx="560" cy="376.7" r="2.5"/><circle cx="560.5" cy="385.2" r="2.5"/><circle cx="557.5" cy="393.7" r="2.5"/><circle cx="562.7" cy="402.2" r="2.5"/><circle cx="548.2" cy="410.8" r="2.5"/><circle cx="557.3" cy="419.3" r="2.5"/><circle cx="555" cy="427.8" r="2.5"/><circle cx="554" cy="436.3" r="2.5"/><circle cx="553" cy="444.8" r="2.5"/><circle cx="553.5" cy="453.3" r="2.5"/><circle cx="554" cy="461.8" r="2.5"/><circle cx="555" cy="470.3" r="2.5"/><circle cx="549.5" cy="478.8" r="2.5"/></g>
<polyline points="548.8,57.8 538.1,62 535.4,66.3 531.5,70.5 537.2,74.8 536,79 535.4,83.3 536.6,87.5 538.4,91.8 536.3,96 538.4,104.5 537,113 532,121.5 528.8,130.1 527.5,138.6 490,147.1 481.7,155.6 489.1,164.1 482.3,172.6 494.3,181.1 490.7,189.6 492.3,198.1 491,206.6 494.5,215.1 497,223.6 505,232.1 506.2,240.6 510,249.1 512,257.6 515.5,266.1 521.2,274.7 523.8,283.2 531.2,291.7 533.8,300.2 537,308.7 538,317.2 540,325.7 539.5,334.2 541,342.7 545.5,351.2 546.2,359.7 551,368.2 556.2,376.7 560,385.2 555,393.7 558,402.2 550,410.8 559.4,419.3 554,427.8 556.7,436.3 558,444.8 558.5,453.3 555.8,461.8 557.3,470.3 552.2,478.8" fill="none" stroke="#B5CF86" stroke-width="1" stroke-linejoin="round"/>
<g fill="#0A6FC2" stroke="#8AA84A" stroke-width="0.6"><circle cx="548.8" cy="57.8" r="2.5"/><circle cx="538.1" cy="62" r="2.5"/><circle cx="535.4" cy="66.3" r="2.5"/><circle cx="531.5" cy="70.5" r="2.5"/><circle cx="537.2" cy="74.8" r="2.5"/><circle cx="536" cy="79" r="2.5"/><circle cx="535.4" cy="83.3" r="2.5"/><circle cx="536.6" cy="87.5" r="2.5"/><circle cx="538.4" cy="91.8" r="2.5"/><circle cx="536.3" cy="96" r="2.5"/><circle cx="538.4" cy="104.5" r="2.5"/><circle cx="537" cy="113" r="2.5"/><circle cx="532" cy="121.5" r="2.5"/><circle cx="528.8" cy="130.1" r="2.5"/><circle cx="527.5" cy="138.6" r="2.5"/><circle cx="490" cy="147.1" r="2.5"/><circle cx="481.7" cy="155.6" r="2.5"/><circle cx="489.1" cy="164.1" r="2.5"/><circle cx="482.3" cy="172.6" r="2.5"/><circle cx="494.3" cy="181.1" r="2.5"/><circle cx="490.7" cy="189.6" r="2.5"/><circle cx="492.3" cy="198.1" r="2.5"/><circle cx="491" cy="206.6" r="2.5"/><circle cx="494.5" cy="215.1" r="2.5"/><circle cx="497" cy="223.6" r="2.5"/><circle cx="505" cy="232.1" r="2.5"/><circle cx="506.2" cy="240.6" r="2.5"/><circle cx="510" cy="249.1" r="2.5"/><circle cx="512" cy="257.6" r="2.5"/><circle cx="515.5" cy="266.1" r="2.5"/><circle cx="521.2" cy="274.7" r="2.5"/><circle cx="523.8" cy="283.2" r="2.5"/><circle cx="531.2" cy="291.7" r="2.5"/><circle cx="533.8" cy="300.2" r="2.5"/><circle cx="537" cy="308.7" r="2.5"/><circle cx="538" cy="317.2" r="2.5"/><circle cx="540" cy="325.7" r="2.5"/><circle cx="539.5" cy="334.2" r="2.5"/><circle cx="541" cy="342.7" r="2.5"/><circle cx="545.5" cy="351.2" r="2.5"/><circle cx="546.2" cy="359.7" r="2.5"/><circle cx="551" cy="368.2" r="2.5"/><circle cx="556.2" cy="376.7" r="2.5"/><circle cx="560" cy="385.2" r="2.5"/><circle cx="555" cy="393.7" r="2.5"/><circle cx="558" cy="402.2" r="2.5"/><circle cx="550" cy="410.8" r="2.5"/><circle cx="559.4" cy="419.3" r="2.5"/><circle cx="554" cy="427.8" r="2.5"/><circle cx="556.7" cy="436.3" r="2.5"/><circle cx="558" cy="444.8" r="2.5"/><circle cx="558.5" cy="453.3" r="2.5"/><circle cx="555.8" cy="461.8" r="2.5"/><circle cx="557.3" cy="470.3" r="2.5"/><circle cx="552.2" cy="478.8" r="2.5"/></g>
<polyline points="527.5,57.8 527.2,62 522.4,66.3 520.9,70.5 520.7,74.8 505.9,79 495.4,83.3 491.1,87.5 487.8,91.8 483.6,96 484.2,104.5 487,113 490,121.5 489.5,130.1 490.5,138.6 493.8,147.1 489.5,155.6 485.3,164.1 484.7,172.6 474.4,181.1 477.2,189.6 479.9,198.1 484.7,206.6 489.5,215.1 492,223.6 500,232.1 499.5,240.6 504.5,249.1 509.5,257.6 512.5,266.1 513.8,274.7 513.8,283.2 516.2,291.7 519.5,300.2 520.5,308.7 523.8,317.2 528.8,325.7 531.2,334.2 542.5,342.7 549.5,351.2 553.8,359.7 557.5,368.2 557,376.7 550.5,385.2 542,393.7 545.9,402.2 544.1,410.8 547.1,419.3 549.5,427.8 550.4,436.3 546.8,444.8 548.2,453.3 546.4,461.8 546.4,470.3 550.4,478.8" fill="none" stroke="#8064A2" stroke-width="1.6" stroke-linejoin="round"/>
<g fill="#8064A2"><circle cx="527.5" cy="57.8" r="2.5"/><circle cx="527.2" cy="62" r="2.5"/><circle cx="522.4" cy="66.3" r="2.5"/><circle cx="520.9" cy="70.5" r="2.5"/><circle cx="520.7" cy="74.8" r="2.5"/><circle cx="505.9" cy="79" r="2.5"/><circle cx="495.4" cy="83.3" r="2.5"/><circle cx="491.1" cy="87.5" r="2.5"/><circle cx="487.8" cy="91.8" r="2.5"/><circle cx="483.6" cy="96" r="2.5"/><circle cx="484.2" cy="104.5" r="2.5"/><circle cx="487" cy="113" r="2.5"/><circle cx="490" cy="121.5" r="2.5"/><circle cx="489.5" cy="130.1" r="2.5"/><circle cx="490.5" cy="138.6" r="2.5"/><circle cx="493.8" cy="147.1" r="2.5"/><circle cx="489.5" cy="155.6" r="2.5"/><circle cx="485.3" cy="164.1" r="2.5"/><circle cx="484.7" cy="172.6" r="2.5"/><circle cx="474.4" cy="181.1" r="2.5"/><circle cx="477.2" cy="189.6" r="2.5"/><circle cx="479.9" cy="198.1" r="2.5"/><circle cx="484.7" cy="206.6" r="2.5"/><circle cx="489.5" cy="215.1" r="2.5"/><circle cx="492" cy="223.6" r="2.5"/><circle cx="500" cy="232.1" r="2.5"/><circle cx="499.5" cy="240.6" r="2.5"/><circle cx="504.5" cy="249.1" r="2.5"/><circle cx="509.5" cy="257.6" r="2.5"/><circle cx="512.5" cy="266.1" r="2.5"/><circle cx="513.8" cy="274.7" r="2.5"/><circle cx="513.8" cy="283.2" r="2.5"/><circle cx="516.2" cy="291.7" r="2.5"/><circle cx="519.5" cy="300.2" r="2.5"/><circle cx="520.5" cy="308.7" r="2.5"/><circle cx="523.8" cy="317.2" r="2.5"/><circle cx="528.8" cy="325.7" r="2.5"/><circle cx="531.2" cy="334.2" r="2.5"/><circle cx="542.5" cy="342.7" r="2.5"/><circle cx="549.5" cy="351.2" r="2.5"/><circle cx="553.8" cy="359.7" r="2.5"/><circle cx="557.5" cy="368.2" r="2.5"/><circle cx="557" cy="376.7" r="2.5"/><circle cx="550.5" cy="385.2" r="2.5"/><circle cx="542" cy="393.7" r="2.5"/><circle cx="545.9" cy="402.2" r="2.5"/><circle cx="544.1" cy="410.8" r="2.5"/><circle cx="547.1" cy="419.3" r="2.5"/><circle cx="549.5" cy="427.8" r="2.5"/><circle cx="550.4" cy="436.3" r="2.5"/><circle cx="546.8" cy="444.8" r="2.5"/><circle cx="548.2" cy="453.3" r="2.5"/><circle cx="546.4" cy="461.8" r="2.5"/><circle cx="546.4" cy="470.3" r="2.5"/><circle cx="550.4" cy="478.8" r="2.5"/></g>
<polyline points="598.8,57.8 608,62 588,66.3 577.5,70.5 568.8,74.8 552.5,79 535,83.3 506.2,87.5 474.5,91.8 472.5,96 467,104.5 473.8,113 470.5,121.5 475,130.1 474.5,138.6 475,147.1 467.8,155.6 466.6,164.1 469.4,172.6 484.1,181.1 471.8,189.6 474.2,198.1 477.4,206.6 480.5,215.1 482.5,223.6 486.2,232.1 491.2,240.6 492,249.1 497,257.6 500,266.1 514.5,274.7 517.5,283.2 519.5,291.7 521.2,300.2 523.8,308.7 527,317.2 530,325.7 535,334.2 539.5,342.7 544.5,351.2 547.5,359.7 549.5,368.2 552.5,376.7 552.5,385.2 554.5,393.7 552.6,402.2 551.8,410.8 552.2,419.3 554.4,427.8 553.1,436.3 552.6,444.8 553.1,453.3 552.6,461.8 553.1,470.3 554,478.8" fill="none" stroke="#4BACC6" stroke-width="1.8" stroke-linejoin="round"/>
<g fill="#4BACC6"><circle cx="598.8" cy="57.8" r="2.5"/><circle cx="608" cy="62" r="2.5"/><circle cx="588" cy="66.3" r="2.5"/><circle cx="577.5" cy="70.5" r="2.5"/><circle cx="568.8" cy="74.8" r="2.5"/><circle cx="552.5" cy="79" r="2.5"/><circle cx="535" cy="83.3" r="2.5"/><circle cx="506.2" cy="87.5" r="2.5"/><circle cx="474.5" cy="91.8" r="2.5"/><circle cx="472.5" cy="96" r="2.5"/><circle cx="467" cy="104.5" r="2.5"/><circle cx="473.8" cy="113" r="2.5"/><circle cx="470.5" cy="121.5" r="2.5"/><circle cx="475" cy="130.1" r="2.5"/><circle cx="474.5" cy="138.6" r="2.5"/><circle cx="475" cy="147.1" r="2.5"/><circle cx="467.8" cy="155.6" r="2.5"/><circle cx="466.6" cy="164.1" r="2.5"/><circle cx="469.4" cy="172.6" r="2.5"/><circle cx="484.1" cy="181.1" r="2.5"/><circle cx="471.8" cy="189.6" r="2.5"/><circle cx="474.2" cy="198.1" r="2.5"/><circle cx="477.4" cy="206.6" r="2.5"/><circle cx="480.5" cy="215.1" r="2.5"/><circle cx="482.5" cy="223.6" r="2.5"/><circle cx="486.2" cy="232.1" r="2.5"/><circle cx="491.2" cy="240.6" r="2.5"/><circle cx="492" cy="249.1" r="2.5"/><circle cx="497" cy="257.6" r="2.5"/><circle cx="500" cy="266.1" r="2.5"/><circle cx="514.5" cy="274.7" r="2.5"/><circle cx="517.5" cy="283.2" r="2.5"/><circle cx="519.5" cy="291.7" r="2.5"/><circle cx="521.2" cy="300.2" r="2.5"/><circle cx="523.8" cy="308.7" r="2.5"/><circle cx="527" cy="317.2" r="2.5"/><circle cx="530" cy="325.7" r="2.5"/><circle cx="535" cy="334.2" r="2.5"/><circle cx="539.5" cy="342.7" r="2.5"/><circle cx="544.5" cy="351.2" r="2.5"/><circle cx="547.5" cy="359.7" r="2.5"/><circle cx="549.5" cy="368.2" r="2.5"/><circle cx="552.5" cy="376.7" r="2.5"/><circle cx="552.5" cy="385.2" r="2.5"/><circle cx="554.5" cy="393.7" r="2.5"/><circle cx="552.6" cy="402.2" r="2.5"/><circle cx="551.8" cy="410.8" r="2.5"/><circle cx="552.2" cy="419.3" r="2.5"/><circle cx="554.4" cy="427.8" r="2.5"/><circle cx="553.1" cy="436.3" r="2.5"/><circle cx="552.6" cy="444.8" r="2.5"/><circle cx="553.1" cy="453.3" r="2.5"/><circle cx="552.6" cy="461.8" r="2.5"/><circle cx="553.1" cy="470.3" r="2.5"/><circle cx="554" cy="478.8" r="2.5"/></g>
<line x1="599" y1="413.1" x2="617.5" y2="413.1" stroke="#E0A0A0" stroke-width="1.4"/>
<circle cx="608.3" cy="413.1" r="2.6" fill="#FF0000"/>
<text x="619.8" y="416.2" font-family='"Liberation Sans", sans-serif' font-size="9" fill="#595959" textLength="24.8" lengthAdjust="spacingAndGlyphs">201710</text>
<line x1="599" y1="426.9" x2="617.5" y2="426.9" stroke="#8DB3E2" stroke-width="1.4"/>
<circle cx="608.3" cy="426.9" r="2.6" fill="#FFFF00" stroke="#5B8BD0" stroke-width="0.6"/>
<text x="619.8" y="430" font-family='"Liberation Sans", sans-serif' font-size="9" fill="#595959" textLength="24.8" lengthAdjust="spacingAndGlyphs">201805</text>
<line x1="599" y1="441.1" x2="617.5" y2="441.1" stroke="#B5CF86" stroke-width="1.4"/>
<circle cx="608.3" cy="441.1" r="2.6" fill="#0A6FC2" stroke="#8AA84A" stroke-width="0.6"/>
<text x="619.8" y="444.2" font-family='"Liberation Sans", sans-serif' font-size="9" fill="#595959" textLength="24.8" lengthAdjust="spacingAndGlyphs">201810</text>
<line x1="599" y1="454.9" x2="617.5" y2="454.9" stroke="#8064A2" stroke-width="2.0"/>
<circle cx="608.3" cy="454.9" r="2.6" fill="#8064A2"/>
<text x="619.8" y="458" font-family='"Liberation Sans", sans-serif' font-size="9" fill="#595959" textLength="24.8" lengthAdjust="spacingAndGlyphs">201905</text>
<line x1="599" y1="469" x2="617.5" y2="469" stroke="#4BACC6" stroke-width="2.2"/>
<circle cx="608.3" cy="469" r="2.6" fill="#4BACC6"/>
<text x="619.8" y="472.1" font-family='"Liberation Sans", sans-serif' font-size="9" fill="#595959" textLength="24.8" lengthAdjust="spacingAndGlyphs">201910</text>
<text x="118.6" y="558" font-family='"Liberation Serif", serif' font-size="12.8" fill="#595959" textLength="113.2" lengthAdjust="spacingAndGlyphs">Soil moisture content</text>
<text x="231.8" y="558" font-family='"Liberation Serif", serif' font-size="12.8" fill="#595959" textLength="19.2" lengthAdjust="spacingAndGlyphs">(%)</text>
<line x1="59" y1="585.3" x2="311.5" y2="585.3" stroke="#606060" stroke-width="1.5"/>
<line x1="59.5" y1="584.8" x2="59.5" y2="1021.3" stroke="#606060" stroke-width="1.5"/>
<text x="59.5" y="576" font-family='"Liberation Sans", sans-serif' font-size="9.4" fill="#666" text-anchor="middle">-</text>
<line x1="109.8" y1="585.3" x2="109.8" y2="588.3" stroke="#606060" stroke-width="1.2"/>
<text x="109.8" y="576" font-family='"Liberation Sans", sans-serif' font-size="9.4" fill="#666" text-anchor="middle" textLength="4.8" lengthAdjust="spacingAndGlyphs">5</text>
<line x1="160.1" y1="585.3" x2="160.1" y2="588.3" stroke="#606060" stroke-width="1.2"/>
<text x="160.1" y="576" font-family='"Liberation Sans", sans-serif' font-size="9.4" fill="#666" text-anchor="middle" textLength="9.6" lengthAdjust="spacingAndGlyphs">10</text>
<line x1="210.4" y1="585.3" x2="210.4" y2="588.3" stroke="#606060" stroke-width="1.2"/>
<text x="210.4" y="576" font-family='"Liberation Sans", sans-serif' font-size="9.4" fill="#666" text-anchor="middle" textLength="9.6" lengthAdjust="spacingAndGlyphs">15</text>
<line x1="260.7" y1="585.3" x2="260.7" y2="588.3" stroke="#606060" stroke-width="1.2"/>
<text x="260.7" y="576" font-family='"Liberation Sans", sans-serif' font-size="9.4" fill="#666" text-anchor="middle" textLength="9.6" lengthAdjust="spacingAndGlyphs">20</text>
<line x1="311" y1="585.3" x2="311" y2="588.3" stroke="#606060" stroke-width="1.2"/>
<text x="311" y="576" font-family='"Liberation Sans", sans-serif' font-size="9.4" fill="#666" text-anchor="middle" textLength="9.6" lengthAdjust="spacingAndGlyphs">25</text>
<text x="52.8" y="588.5" font-family='"Liberation Sans", sans-serif' font-size="9.4" fill="#666" text-anchor="end" textLength="4.8" lengthAdjust="spacingAndGlyphs">0</text>
<line x1="59.5" y1="628.8" x2="62.5" y2="628.8" stroke="#606060" stroke-width="1.2"/>
<text x="52.8" y="632" font-family='"Liberation Sans", sans-serif' font-size="9.4" fill="#666" text-anchor="end" textLength="14.4" lengthAdjust="spacingAndGlyphs">100</text>
<line x1="59.5" y1="672.4" x2="62.5" y2="672.4" stroke="#606060" stroke-width="1.2"/>
<text x="52.8" y="675.6" font-family='"Liberation Sans", sans-serif' font-size="9.4" fill="#666" text-anchor="end" textLength="14.4" lengthAdjust="spacingAndGlyphs">200</text>
<line x1="59.5" y1="715.9" x2="62.5" y2="715.9" stroke="#606060" stroke-width="1.2"/>
<text x="52.8" y="719.1" font-family='"Liberation Sans", sans-serif' font-size="9.4" fill="#666" text-anchor="end" textLength="14.4" lengthAdjust="spacingAndGlyphs">300</text>
<line x1="59.5" y1="759.5" x2="62.5" y2="759.5" stroke="#606060" stroke-width="1.2"/>
<text x="52.8" y="762.7" font-family='"Liberation Sans", sans-serif' font-size="9.4" fill="#666" text-anchor="end" textLength="14.4" lengthAdjust="spacingAndGlyphs">400</text>
<line x1="59.5" y1="803" x2="62.5" y2="803" stroke="#606060" stroke-width="1.2"/>
<text x="52.8" y="806.2" font-family='"Liberation Sans", sans-serif' font-size="9.4" fill="#666" text-anchor="end" textLength="14.4" lengthAdjust="spacingAndGlyphs">500</text>
<line x1="59.5" y1="846.6" x2="62.5" y2="846.6" stroke="#606060" stroke-width="1.2"/>
<text x="52.8" y="849.8" font-family='"Liberation Sans", sans-serif' font-size="9.4" fill="#666" text-anchor="end" textLength="14.4" lengthAdjust="spacingAndGlyphs">600</text>
<line x1="59.5" y1="890.1" x2="62.5" y2="890.1" stroke="#606060" stroke-width="1.2"/>
<text x="52.8" y="893.4" font-family='"Liberation Sans", sans-serif' font-size="9.4" fill="#666" text-anchor="end" textLength="14.4" lengthAdjust="spacingAndGlyphs">700</text>
<line x1="59.5" y1="933.7" x2="62.5" y2="933.7" stroke="#606060" stroke-width="1.2"/>
<text x="52.8" y="936.9" font-family='"Liberation Sans", sans-serif' font-size="9.4" fill="#666" text-anchor="end" textLength="14.4" lengthAdjust="spacingAndGlyphs">800</text>
<line x1="59.5" y1="977.2" x2="62.5" y2="977.2" stroke="#606060" stroke-width="1.2"/>
<text x="52.8" y="980.5" font-family='"Liberation Sans", sans-serif' font-size="9.4" fill="#666" text-anchor="end" textLength="14.4" lengthAdjust="spacingAndGlyphs">900</text>
<line x1="59.5" y1="1020.8" x2="62.5" y2="1020.8" stroke="#606060" stroke-width="1.2"/>
<text x="52.8" y="1024" font-family='"Liberation Sans", sans-serif' font-size="9.4" fill="#666" text-anchor="end" textLength="19.2" lengthAdjust="spacingAndGlyphs">1000</text>
<g transform="translate(20.3,844.7) rotate(-90)" font-family='"Liberation Serif", serif' font-size="12.5" fill="#595959"><text x="0" y="0" textLength="51.8" lengthAdjust="spacingAndGlyphs">Soil depth</text><text x="58.7" y="0">(</text><text x="63.8" y="0" textLength="15" lengthAdjust="spacingAndGlyphs">cm</text><text x="81.7" y="0">)</text></g>
<text x="161" y="1039.6" font-family='"Liberation Serif", serif' font-size="13" fill="#404040" textLength="17.7" lengthAdjust="spacingAndGlyphs">HR</text>
<polyline points="261.8,589.7 225.5,594 219.8,598.4 214,602.7 208.5,607.1 204.2,611.4 199.2,615.8 198,620.1 198.5,624.5 197.5,628.8 190,637.6 175.2,646.3 165.5,655 128.9,663.7 110.2,672.4 108.3,681.1 110.2,689.8 110.5,698.5 112.6,707.2 112,715.9 112.6,724.7 110.3,733.4 108.8,742.1 108.8,750.8 109,759.5 111,768.2 114.8,776.9 118.6,785.6 120.1,794.3 121.8,803 122.5,811.8 124.8,820.5 130.8,829.2 133.1,837.9 136.8,846.6 142.9,855.3 141.4,864 138.8,872.7 136.1,881.4 139.8,890.1 144,898.9 144,907.6 144.8,916.3 147,925 154.3,933.7 163.6,942.4 171.9,951.1 175.3,959.8 186.2,968.5 185.3,977.2 198.7,986 196,994.7 192.6,1003.4 179.3,1012.1 205.5,1020.8" fill="none" stroke="#D46060" stroke-width="1" stroke-linejoin="round"/>
<g fill="#FF0000"><circle cx="261.8" cy="589.7" r="2.7"/><circle cx="225.5" cy="594" r="2.7"/><circle cx="219.8" cy="598.4" r="2.7"/><circle cx="214" cy="602.7" r="2.7"/><circle cx="208.5" cy="607.1" r="2.7"/><circle cx="204.2" cy="611.4" r="2.7"/><circle cx="199.2" cy="615.8" r="2.7"/><circle cx="198" cy="620.1" r="2.7"/><circle cx="198.5" cy="624.5" r="2.7"/><circle cx="197.5" cy="628.8" r="2.7"/><circle cx="190" cy="637.6" r="2.7"/><circle cx="175.2" cy="646.3" r="2.7"/><circle cx="165.5" cy="655" r="2.7"/><circle cx="128.9" cy="663.7" r="2.7"/><circle cx="110.2" cy="672.4" r="2.7"/><circle cx="108.3" cy="681.1" r="2.7"/><circle cx="110.2" cy="689.8" r="2.7"/><circle cx="110.5" cy="698.5" r="2.7"/><circle cx="112.6" cy="707.2" r="2.7"/><circle cx="112" cy="715.9" r="2.7"/><circle cx="112.6" cy="724.7" r="2.7"/><circle cx="110.3" cy="733.4" r="2.7"/><circle cx="108.8" cy="742.1" r="2.7"/><circle cx="108.8" cy="750.8" r="2.7"/><circle cx="109" cy="759.5" r="2.7"/><circle cx="111" cy="768.2" r="2.7"/><circle cx="114.8" cy="776.9" r="2.7"/><circle cx="118.6" cy="785.6" r="2.7"/><circle cx="120.1" cy="794.3" r="2.7"/><circle cx="121.8" cy="803" r="2.7"/><circle cx="122.5" cy="811.8" r="2.7"/><circle cx="124.8" cy="820.5" r="2.7"/><circle cx="130.8" cy="829.2" r="2.7"/><circle cx="133.1" cy="837.9" r="2.7"/><circle cx="136.8" cy="846.6" r="2.7"/><circle cx="142.9" cy="855.3" r="2.7"/><circle cx="141.4" cy="864" r="2.7"/><circle cx="138.8" cy="872.7" r="2.7"/><circle cx="136.1" cy="881.4" r="2.7"/><circle cx="139.8" cy="890.1" r="2.7"/><circle cx="144" cy="898.9" r="2.7"/><circle cx="144" cy="907.6" r="2.7"/><circle cx="144.8" cy="916.3" r="2.7"/><circle cx="147" cy="925" r="2.7"/><circle cx="154.3" cy="933.7" r="2.7"/><circle cx="163.6" cy="942.4" r="2.7"/><circle cx="171.9" cy="951.1" r="2.7"/><circle cx="175.3" cy="959.8" r="2.7"/><circle cx="186.2" cy="968.5" r="2.7"/><circle cx="185.3" cy="977.2" r="2.7"/><circle cx="198.7" cy="986" r="2.7"/><circle cx="196" cy="994.7" r="2.7"/><circle cx="192.6" cy="1003.4" r="2.7"/><circle cx="179.3" cy="1012.1" r="2.7"/><circle cx="205.5" cy="1020.8" r="2.7"/></g>
<polyline points="141.2,589.7 139.7,594 130.6,598.4 148.1,602.7 148.7,607.1 150.1,611.4 156.9,615.8 158.9,620.1 161,624.5 162.9,628.8 164.3,637.6 170.7,646.3 165,655 122,663.7 112.8,672.4 109.3,681.1 110.5,689.8 113.2,698.5 111.3,707.2 109.3,715.9 106.5,724.7 104.7,733.4 105.8,742.1 107,750.8 108,759.5 110,768.2 114,776.9 120.5,785.6 124.5,794.3 122,803 124,811.8 128,820.5 132,829.2 142.9,837.9 145,846.6 154.4,855.3 148,864 153.4,872.7 148.1,881.4 154.1,890.1 148,898.9 148,907.6 150,916.3 151.6,925 168.9,933.7 176.4,942.4 182.4,951.1 185,959.8 190,968.5 196.7,977.2 196.7,986 188.6,994.7 184.1,1003.4 192.7,1012.1 190.7,1020.8" fill="none" stroke="#B5CF86" stroke-width="1" stroke-linejoin="round"/>
<g fill="#FFFF00" stroke="#C9C93A" stroke-width="0.6"><circle cx="141.2" cy="589.7" r="2.7"/><circle cx="139.7" cy="594" r="2.7"/><circle cx="130.6" cy="598.4" r="2.7"/><circle cx="148.1" cy="602.7" r="2.7"/><circle cx="148.7" cy="607.1" r="2.7"/><circle cx="150.1" cy="611.4" r="2.7"/><circle cx="156.9" cy="615.8" r="2.7"/><circle cx="158.9" cy="620.1" r="2.7"/><circle cx="161" cy="624.5" r="2.7"/><circle cx="162.9" cy="628.8" r="2.7"/><circle cx="164.3" cy="637.6" r="2.7"/><circle cx="170.7" cy="646.3" r="2.7"/><circle cx="165" cy="655" r="2.7"/><circle cx="122" cy="663.7" r="2.7"/><circle cx="112.8" cy="672.4" r="2.7"/><circle cx="109.3" cy="681.1" r="2.7"/><circle cx="110.5" cy="689.8" r="2.7"/><circle cx="113.2" cy="698.5" r="2.7"/><circle cx="111.3" cy="707.2" r="2.7"/><circle cx="109.3" cy="715.9" r="2.7"/><circle cx="106.5" cy="724.7" r="2.7"/><circle cx="104.7" cy="733.4" r="2.7"/><circle cx="105.8" cy="742.1" r="2.7"/><circle cx="107" cy="750.8" r="2.7"/><circle cx="108" cy="759.5" r="2.7"/><circle cx="110" cy="768.2" r="2.7"/><circle cx="114" cy="776.9" r="2.7"/><circle cx="120.5" cy="785.6" r="2.7"/><circle cx="124.5" cy="794.3" r="2.7"/><circle cx="122" cy="803" r="2.7"/><circle cx="124" cy="811.8" r="2.7"/><circle cx="128" cy="820.5" r="2.7"/><circle cx="132" cy="829.2" r="2.7"/><circle cx="142.9" cy="837.9" r="2.7"/><circle cx="145" cy="846.6" r="2.7"/><circle cx="154.4" cy="855.3" r="2.7"/><circle cx="148" cy="864" r="2.7"/><circle cx="153.4" cy="872.7" r="2.7"/><circle cx="148.1" cy="881.4" r="2.7"/><circle cx="154.1" cy="890.1" r="2.7"/><circle cx="148" cy="898.9" r="2.7"/><circle cx="148" cy="907.6" r="2.7"/><circle cx="150" cy="916.3" r="2.7"/><circle cx="151.6" cy="925" r="2.7"/><circle cx="168.9" cy="933.7" r="2.7"/><circle cx="176.4" cy="942.4" r="2.7"/><circle cx="182.4" cy="951.1" r="2.7"/><circle cx="185" cy="959.8" r="2.7"/><circle cx="190" cy="968.5" r="2.7"/><circle cx="196.7" cy="977.2" r="2.7"/><circle cx="196.7" cy="986" r="2.7"/><circle cx="188.6" cy="994.7" r="2.7"/><circle cx="184.1" cy="1003.4" r="2.7"/><circle cx="192.7" cy="1012.1" r="2.7"/><circle cx="190.7" cy="1020.8" r="2.7"/></g>
<polyline points="225,589.7 205,594 188.5,598.4 201.8,602.7 186,607.1 187.5,611.4 189.2,615.8 190.5,620.1 190.5,624.5 190,628.8 190,637.6 166.9,646.3 165,655 124,663.7 117.3,672.4 113,681.1 123.3,689.8 121.5,698.5 116.8,707.2 114.4,715.9 111.4,724.7 108.8,733.4 106.5,742.1 107.3,750.8 107.3,759.5 109.2,768.2 113.3,776.9 120.1,785.6 124.9,794.3 121,803 119.5,811.8 126.3,820.5 130.1,829.2 135.8,837.9 140.6,846.6 142.4,855.3 140.3,864 136.8,872.7 140.3,881.4 143.6,890.1 142.6,898.9 141.4,907.6 142.3,916.3 146.3,925 156.1,933.7 161.8,942.4 170.4,951.1 178.6,959.8 196.7,968.5 190.8,977.2 194.8,986 198.3,994.7 196.6,1003.4 178,1012.1 197.5,1020.8" fill="none" stroke="#8064A2" stroke-width="1" stroke-linejoin="round"/>
<g fill="#0A6FC2"><circle cx="225" cy="589.7" r="2.7"/><circle cx="205" cy="594" r="2.7"/><circle cx="188.5" cy="598.4" r="2.7"/><circle cx="201.8" cy="602.7" r="2.7"/><circle cx="186" cy="607.1" r="2.7"/><circle cx="187.5" cy="611.4" r="2.7"/><circle cx="189.2" cy="615.8" r="2.7"/><circle cx="190.5" cy="620.1" r="2.7"/><circle cx="190.5" cy="624.5" r="2.7"/><circle cx="190" cy="628.8" r="2.7"/><circle cx="190" cy="637.6" r="2.7"/><circle cx="166.9" cy="646.3" r="2.7"/><circle cx="165" cy="655" r="2.7"/><circle cx="124" cy="663.7" r="2.7"/><circle cx="117.3" cy="672.4" r="2.7"/><circle cx="113" cy="681.1" r="2.7"/><circle cx="123.3" cy="689.8" r="2.7"/><circle cx="121.5" cy="698.5" r="2.7"/><circle cx="116.8" cy="707.2" r="2.7"/><circle cx="114.4" cy="715.9" r="2.7"/><circle cx="111.4" cy="724.7" r="2.7"/><circle cx="108.8" cy="733.4" r="2.7"/><circle cx="106.5" cy="742.1" r="2.7"/><circle cx="107.3" cy="750.8" r="2.7"/><circle cx="107.3" cy="759.5" r="2.7"/><circle cx="109.2" cy="768.2" r="2.7"/><circle cx="113.3" cy="776.9" r="2.7"/><circle cx="120.1" cy="785.6" r="2.7"/><circle cx="124.9" cy="794.3" r="2.7"/><circle cx="121" cy="803" r="2.7"/><circle cx="119.5" cy="811.8" r="2.7"/><circle cx="126.3" cy="820.5" r="2.7"/><circle cx="130.1" cy="829.2" r="2.7"/><circle cx="135.8" cy="837.9" r="2.7"/><circle cx="140.6" cy="846.6" r="2.7"/><circle cx="142.4" cy="855.3" r="2.7"/><circle cx="140.3" cy="864" r="2.7"/><circle cx="136.8" cy="872.7" r="2.7"/><circle cx="140.3" cy="881.4" r="2.7"/><circle cx="143.6" cy="890.1" r="2.7"/><circle cx="142.6" cy="898.9" r="2.7"/><circle cx="141.4" cy="907.6" r="2.7"/><circle cx="142.3" cy="916.3" r="2.7"/><circle cx="146.3" cy="925" r="2.7"/><circle cx="156.1" cy="933.7" r="2.7"/><circle cx="161.8" cy="942.4" r="2.7"/><circle cx="170.4" cy="951.1" r="2.7"/><circle cx="178.6" cy="959.8" r="2.7"/><circle cx="196.7" cy="968.5" r="2.7"/><circle cx="190.8" cy="977.2" r="2.7"/><circle cx="194.8" cy="986" r="2.7"/><circle cx="198.3" cy="994.7" r="2.7"/><circle cx="196.6" cy="1003.4" r="2.7"/><circle cx="178" cy="1012.1" r="2.7"/><circle cx="197.5" cy="1020.8" r="2.7"/></g>
<polyline points="161.9,589.7 161.3,594 154.1,598.4 153.3,602.7 153.5,607.1 154.1,611.4 162.5,615.8 157.1,620.1 155,624.5 154.1,628.8 155.3,637.6 150.8,646.3 148.1,655 126.3,663.7 117.7,672.4 113.5,681.1 129.3,689.8 121.5,698.5 128.8,707.2 125.8,715.9 121.6,724.7 117.4,733.4 115.9,742.1 112.6,750.8 115.9,759.5 123.1,768.2 120.1,776.9 130.9,785.6 129.4,794.3 129.3,803 132.3,811.8 134.9,820.5 137.6,829.2 146.9,837.9 150.4,846.6 148.1,855.3 149.3,864 151.9,872.7 151.9,881.4 146.3,890.1 155.3,898.9 158.8,907.6 148.6,916.3 145.6,925 158.8,933.7 168.1,942.4 188.9,951.1 191.4,959.8 184.7,968.5 188.4,977.2 188.6,986 196,994.7 197.5,1003.4 187,1012.1 198.7,1020.8" fill="none" stroke="#4A7CC4" stroke-width="1.6" stroke-linejoin="round"/>
<g fill="#4A7CC4"><circle cx="161.9" cy="589.7" r="2.7"/><circle cx="161.3" cy="594" r="2.7"/><circle cx="154.1" cy="598.4" r="2.7"/><circle cx="153.3" cy="602.7" r="2.7"/><circle cx="153.5" cy="607.1" r="2.7"/><circle cx="154.1" cy="611.4" r="2.7"/><circle cx="162.5" cy="615.8" r="2.7"/><circle cx="157.1" cy="620.1" r="2.7"/><circle cx="155" cy="624.5" r="2.7"/><circle cx="154.1" cy="628.8" r="2.7"/><circle cx="155.3" cy="637.6" r="2.7"/><circle cx="150.8" cy="646.3" r="2.7"/><circle cx="148.1" cy="655" r="2.7"/><circle cx="126.3" cy="663.7" r="2.7"/><circle cx="117.7" cy="672.4" r="2.7"/><circle cx="113.5" cy="681.1" r="2.7"/><circle cx="129.3" cy="689.8" r="2.7"/><circle cx="121.5" cy="698.5" r="2.7"/><circle cx="128.8" cy="707.2" r="2.7"/><circle cx="125.8" cy="715.9" r="2.7"/><circle cx="121.6" cy="724.7" r="2.7"/><circle cx="117.4" cy="733.4" r="2.7"/><circle cx="115.9" cy="742.1" r="2.7"/><circle cx="112.6" cy="750.8" r="2.7"/><circle cx="115.9" cy="759.5" r="2.7"/><circle cx="123.1" cy="768.2" r="2.7"/><circle cx="120.1" cy="776.9" r="2.7"/><circle cx="130.9" cy="785.6" r="2.7"/><circle cx="129.4" cy="794.3" r="2.7"/><circle cx="129.3" cy="803" r="2.7"/><circle cx="132.3" cy="811.8" r="2.7"/><circle cx="134.9" cy="820.5" r="2.7"/><circle cx="137.6" cy="829.2" r="2.7"/><circle cx="146.9" cy="837.9" r="2.7"/><circle cx="150.4" cy="846.6" r="2.7"/><circle cx="148.1" cy="855.3" r="2.7"/><circle cx="149.3" cy="864" r="2.7"/><circle cx="151.9" cy="872.7" r="2.7"/><circle cx="151.9" cy="881.4" r="2.7"/><circle cx="146.3" cy="890.1" r="2.7"/><circle cx="155.3" cy="898.9" r="2.7"/><circle cx="158.8" cy="907.6" r="2.7"/><circle cx="148.6" cy="916.3" r="2.7"/><circle cx="145.6" cy="925" r="2.7"/><circle cx="158.8" cy="933.7" r="2.7"/><circle cx="168.1" cy="942.4" r="2.7"/><circle cx="188.9" cy="951.1" r="2.7"/><circle cx="191.4" cy="959.8" r="2.7"/><circle cx="184.7" cy="968.5" r="2.7"/><circle cx="188.4" cy="977.2" r="2.7"/><circle cx="188.6" cy="986" r="2.7"/><circle cx="196" cy="994.7" r="2.7"/><circle cx="197.5" cy="1003.4" r="2.7"/><circle cx="187" cy="1012.1" r="2.7"/><circle cx="198.7" cy="1020.8" r="2.7"/></g>
<polyline points="258,589.7 249.2,594 226.8,598.4 212.5,602.7 201,607.1 191.8,611.4 174,615.8 147.5,620.1 126.4,624.5 121,628.8 121,637.6 119.2,646.3 150.8,655 121,663.7 124,672.4 125.9,681.1 123.3,689.8 124.1,698.5 124.3,707.2 120.1,715.9 115.9,724.7 113.8,733.4 112.3,742.1 112.3,750.8 110.8,759.5 112.3,768.2 117.8,776.9 120.8,785.6 129.4,794.3 123.3,803 125.6,811.8 129.3,820.5 133.8,829.2 139.4,837.9 143.3,846.6 147.8,855.3 144.8,864 144.4,872.7 144.8,881.4 146.6,890.1 147.8,898.9 147.8,907.6 150.1,916.3 155.3,925 164.8,933.7 171.9,942.4 177.9,951.1 181.7,959.8 191.7,968.5 189,977.2 193.1,986 194.9,994.7 193.1,1003.4 187.9,1012.1 196.7,1020.8" fill="none" stroke="#4BACC6" stroke-width="2" stroke-linejoin="round"/>
<g fill="#4BACC6"><circle cx="258" cy="589.7" r="2.7"/><circle cx="249.2" cy="594" r="2.7"/><circle cx="226.8" cy="598.4" r="2.7"/><circle cx="212.5" cy="602.7" r="2.7"/><circle cx="201" cy="607.1" r="2.7"/><circle cx="191.8" cy="611.4" r="2.7"/><circle cx="174" cy="615.8" r="2.7"/><circle cx="147.5" cy="620.1" r="2.7"/><circle cx="126.4" cy="624.5" r="2.7"/><circle cx="121" cy="628.8" r="2.7"/><circle cx="121" cy="637.6" r="2.7"/><circle cx="119.2" cy="646.3" r="2.7"/><circle cx="150.8" cy="655" r="2.7"/><circle cx="121" cy="663.7" r="2.7"/><circle cx="124" cy="672.4" r="2.7"/><circle cx="125.9" cy="681.1" r="2.7"/><circle cx="123.3" cy="689.8" r="2.7"/><circle cx="124.1" cy="698.5" r="2.7"/><circle cx="124.3" cy="707.2" r="2.7"/><circle cx="120.1" cy="715.9" r="2.7"/><circle cx="115.9" cy="724.7" r="2.7"/><circle cx="113.8" cy="733.4" r="2.7"/><circle cx="112.3" cy="742.1" r="2.7"/><circle cx="112.3" cy="750.8" r="2.7"/><circle cx="110.8" cy="759.5" r="2.7"/><circle cx="112.3" cy="768.2" r="2.7"/><circle cx="117.8" cy="776.9" r="2.7"/><circle cx="120.8" cy="785.6" r="2.7"/><circle cx="129.4" cy="794.3" r="2.7"/><circle cx="123.3" cy="803" r="2.7"/><circle cx="125.6" cy="811.8" r="2.7"/><circle cx="129.3" cy="820.5" r="2.7"/><circle cx="133.8" cy="829.2" r="2.7"/><circle cx="139.4" cy="837.9" r="2.7"/><circle cx="143.3" cy="846.6" r="2.7"/><circle cx="147.8" cy="855.3" r="2.7"/><circle cx="144.8" cy="864" r="2.7"/><circle cx="144.4" cy="872.7" r="2.7"/><circle cx="144.8" cy="881.4" r="2.7"/><circle cx="146.6" cy="890.1" r="2.7"/><circle cx="147.8" cy="898.9" r="2.7"/><circle cx="147.8" cy="907.6" r="2.7"/><circle cx="150.1" cy="916.3" r="2.7"/><circle cx="155.3" cy="925" r="2.7"/><circle cx="164.8" cy="933.7" r="2.7"/><circle cx="171.9" cy="942.4" r="2.7"/><circle cx="177.9" cy="951.1" r="2.7"/><circle cx="181.7" cy="959.8" r="2.7"/><circle cx="191.7" cy="968.5" r="2.7"/><circle cx="189" cy="977.2" r="2.7"/><circle cx="193.1" cy="986" r="2.7"/><circle cx="194.9" cy="994.7" r="2.7"/><circle cx="193.1" cy="1003.4" r="2.7"/><circle cx="187.9" cy="1012.1" r="2.7"/><circle cx="196.7" cy="1020.8" r="2.7"/></g>
<line x1="232.4" y1="943.4" x2="255.5" y2="943.4" stroke="#E0A0A0" stroke-width="1.4"/>
<circle cx="243.9" cy="943.4" r="2.8000000000000003" fill="#FF0000"/>
<text x="258.7" y="946.5" font-family='"Liberation Sans", sans-serif' font-size="9" fill="#595959" textLength="29.3" lengthAdjust="spacingAndGlyphs">201710</text>
<line x1="232.4" y1="958.1" x2="255.5" y2="958.1" stroke="#B5CF86" stroke-width="1.4"/>
<circle cx="243.9" cy="958.1" r="2.8000000000000003" fill="#FFFF00" stroke="#C9C93A" stroke-width="0.6"/>
<text x="258.7" y="961.2" font-family='"Liberation Sans", sans-serif' font-size="9" fill="#595959" textLength="29.3" lengthAdjust="spacingAndGlyphs">201805</text>
<line x1="232.4" y1="972.6" x2="255.5" y2="972.6" stroke="#8064A2" stroke-width="1.4"/>
<circle cx="243.9" cy="972.6" r="2.8000000000000003" fill="#0A6FC2"/>
<text x="258.7" y="975.7" font-family='"Liberation Sans", sans-serif' font-size="9" fill="#595959" textLength="29.3" lengthAdjust="spacingAndGlyphs">201810</text>
<line x1="232.4" y1="987.4" x2="255.5" y2="987.4" stroke="#4A7CC4" stroke-width="2.0"/>
<circle cx="243.9" cy="987.4" r="2.8000000000000003" fill="#4A7CC4"/>
<text x="258.7" y="990.5" font-family='"Liberation Sans", sans-serif' font-size="9" fill="#595959" textLength="29.3" lengthAdjust="spacingAndGlyphs">201905</text>
<line x1="232.4" y1="1002.1" x2="255.5" y2="1002.1" stroke="#4BACC6" stroke-width="2.4"/>
<circle cx="243.9" cy="1002.1" r="2.8000000000000003" fill="#4BACC6"/>
<text x="258.7" y="1005.2" font-family='"Liberation Sans", sans-serif' font-size="9" fill="#595959" textLength="29.3" lengthAdjust="spacingAndGlyphs">201910</text>
<text x="472.4" y="557.3" font-family='"Liberation Serif", serif' font-size="11.7" fill="#595959" textLength="90.5" lengthAdjust="spacingAndGlyphs">Soil moisture content</text>
<text y="557.3" font-family='"Liberation Serif", serif' font-size="11.9" fill="#595959"><tspan x="569.5">(</tspan><tspan x="575" textLength="8.6" lengthAdjust="spacingAndGlyphs">%</tspan><tspan x="584.6">)</tspan></text>
<line x1="397.9" y1="588.5" x2="655.3" y2="588.5" stroke="#606060" stroke-width="1.5"/>
<line x1="398.4" y1="588" x2="398.4" y2="1023.7" stroke="#606060" stroke-width="1.5"/>
<text x="399.5" y="580.2" font-family='"Liberation Sans", sans-serif' font-size="8.4" fill="#666" text-anchor="middle" textLength="3.8" lengthAdjust="spacingAndGlyphs">5</text>
<line x1="484.8" y1="588.5" x2="484.8" y2="591.5" stroke="#606060" stroke-width="1.2"/>
<text x="484.8" y="580.2" font-family='"Liberation Sans", sans-serif' font-size="8.4" fill="#666" text-anchor="middle" textLength="7.6" lengthAdjust="spacingAndGlyphs">10</text>
<line x1="570" y1="588.5" x2="570" y2="591.5" stroke="#606060" stroke-width="1.2"/>
<text x="570" y="580.2" font-family='"Liberation Sans", sans-serif' font-size="8.4" fill="#666" text-anchor="middle" textLength="7.6" lengthAdjust="spacingAndGlyphs">15</text>
<line x1="655.2" y1="588.5" x2="655.2" y2="591.5" stroke="#606060" stroke-width="1.2"/>
<text x="655.2" y="580.2" font-family='"Liberation Sans", sans-serif' font-size="8.4" fill="#666" text-anchor="middle" textLength="7.6" lengthAdjust="spacingAndGlyphs">20</text>
<text x="393.2" y="591.7" font-family='"Liberation Sans", sans-serif' font-size="8.4" fill="#666" text-anchor="end" textLength="3.8" lengthAdjust="spacingAndGlyphs">0</text>
<line x1="398.4" y1="632" x2="401.4" y2="632" stroke="#606060" stroke-width="1.2"/>
<text x="393.2" y="635.2" font-family='"Liberation Sans", sans-serif' font-size="8.4" fill="#666" text-anchor="end" textLength="11.4" lengthAdjust="spacingAndGlyphs">100</text>
<line x1="398.4" y1="675.4" x2="401.4" y2="675.4" stroke="#606060" stroke-width="1.2"/>
<text x="393.2" y="678.6" font-family='"Liberation Sans", sans-serif' font-size="8.4" fill="#666" text-anchor="end" textLength="11.4" lengthAdjust="spacingAndGlyphs">200</text>
<line x1="398.4" y1="718.9" x2="401.4" y2="718.9" stroke="#606060" stroke-width="1.2"/>
<text x="393.2" y="722.1" font-family='"Liberation Sans", sans-serif' font-size="8.4" fill="#666" text-anchor="end" textLength="11.4" lengthAdjust="spacingAndGlyphs">300</text>
<line x1="398.4" y1="762.4" x2="401.4" y2="762.4" stroke="#606060" stroke-width="1.2"/>
<text x="393.2" y="765.6" font-family='"Liberation Sans", sans-serif' font-size="8.4" fill="#666" text-anchor="end" textLength="11.4" lengthAdjust="spacingAndGlyphs">400</text>
<line x1="398.4" y1="805.9" x2="401.4" y2="805.9" stroke="#606060" stroke-width="1.2"/>
<text x="393.2" y="809.1" font-family='"Liberation Sans", sans-serif' font-size="8.4" fill="#666" text-anchor="end" textLength="11.4" lengthAdjust="spacingAndGlyphs">500</text>
<line x1="398.4" y1="849.3" x2="401.4" y2="849.3" stroke="#606060" stroke-width="1.2"/>
<text x="393.2" y="852.5" font-family='"Liberation Sans", sans-serif' font-size="8.4" fill="#666" text-anchor="end" textLength="11.4" lengthAdjust="spacingAndGlyphs">600</text>
<line x1="398.4" y1="892.8" x2="401.4" y2="892.8" stroke="#606060" stroke-width="1.2"/>
<text x="393.2" y="896" font-family='"Liberation Sans", sans-serif' font-size="8.4" fill="#666" text-anchor="end" textLength="11.4" lengthAdjust="spacingAndGlyphs">700</text>
<line x1="398.4" y1="936.3" x2="401.4" y2="936.3" stroke="#606060" stroke-width="1.2"/>
<text x="393.2" y="939.5" font-family='"Liberation Sans", sans-serif' font-size="8.4" fill="#666" text-anchor="end" textLength="11.4" lengthAdjust="spacingAndGlyphs">800</text>
<line x1="398.4" y1="979.7" x2="401.4" y2="979.7" stroke="#606060" stroke-width="1.2"/>
<text x="393.2" y="982.9" font-family='"Liberation Sans", sans-serif' font-size="8.4" fill="#666" text-anchor="end" textLength="11.4" lengthAdjust="spacingAndGlyphs">900</text>
<line x1="398.4" y1="1023.2" x2="401.4" y2="1023.2" stroke="#606060" stroke-width="1.2"/>
<text x="393.2" y="1026.4" font-family='"Liberation Sans", sans-serif' font-size="8.4" fill="#666" text-anchor="end" textLength="15.2" lengthAdjust="spacingAndGlyphs">1000</text>
<g transform="translate(363.6,852.8) rotate(-90)" font-family='"Liberation Sans", sans-serif' font-size="11" fill="#666"><text x="0" y="0" textLength="48.2" lengthAdjust="spacingAndGlyphs">Soil depth</text><text x="54.6" y="0">(</text><text x="59.3" y="0" textLength="14" lengthAdjust="spacingAndGlyphs">cm</text><text x="76" y="0">)</text></g>
<text x="518.3" y="1039.5" font-family='"Liberation Serif", serif' font-size="12" fill="#404040" textLength="15.3" lengthAdjust="spacingAndGlyphs">NG</text>
<polyline points="583.1,592.8 572.9,597.2 564.2,601.5 579.7,605.9 576.6,610.2 558.5,614.6 563,618.9 560.9,623.3 563.6,627.6 566.4,632 573,640.7 574,649.4 563.5,658.1 569,666.7 582,675.4 574,684.1 547.8,692.8 535.5,701.5 517.5,710.2 490.4,718.9 473.8,727.6 461.2,736.3 463,745 463.8,753.7 465,762.4 471.2,771.1 487.5,779.8 500,788.5 496,797.2 502.5,805.9 498,814.5 511.2,823.2 509,831.9 508,840.6 498.8,849.3 508.8,858 555,866.7 548.8,875.4 560,884.1 580.5,892.8 585.3,901.5 591.1,910.2 587.4,918.9 581.4,927.6 572,936.3 613,945 593,953.6 597,962.3 594,971 594,979.7 595.9,988.4 584,997.1 594.6,1005.8 584,1014.5 588,1023.2" fill="none" stroke="#D46060" stroke-width="1" stroke-linejoin="round"/>
<g fill="#FF0000"><circle cx="583.1" cy="592.8" r="2.55"/><circle cx="572.9" cy="597.2" r="2.55"/><circle cx="564.2" cy="601.5" r="2.55"/><circle cx="579.7" cy="605.9" r="2.55"/><circle cx="576.6" cy="610.2" r="2.55"/><circle cx="558.5" cy="614.6" r="2.55"/><circle cx="563" cy="618.9" r="2.55"/><circle cx="560.9" cy="623.3" r="2.55"/><circle cx="563.6" cy="627.6" r="2.55"/><circle cx="566.4" cy="632" r="2.55"/><circle cx="573" cy="640.7" r="2.55"/><circle cx="574" cy="649.4" r="2.55"/><circle cx="563.5" cy="658.1" r="2.55"/><circle cx="569" cy="666.7" r="2.55"/><circle cx="582" cy="675.4" r="2.55"/><circle cx="574" cy="684.1" r="2.55"/><circle cx="547.8" cy="692.8" r="2.55"/><circle cx="535.5" cy="701.5" r="2.55"/><circle cx="517.5" cy="710.2" r="2.55"/><circle cx="490.4" cy="718.9" r="2.55"/><circle cx="473.8" cy="727.6" r="2.55"/><circle cx="461.2" cy="736.3" r="2.55"/><circle cx="463" cy="745" r="2.55"/><circle cx="463.8" cy="753.7" r="2.55"/><circle cx="465" cy="762.4" r="2.55"/><circle cx="471.2" cy="771.1" r="2.55"/><circle cx="487.5" cy="779.8" r="2.55"/><circle cx="500" cy="788.5" r="2.55"/><circle cx="496" cy="797.2" r="2.55"/><circle cx="502.5" cy="805.9" r="2.55"/><circle cx="498" cy="814.5" r="2.55"/><circle cx="511.2" cy="823.2" r="2.55"/><circle cx="509" cy="831.9" r="2.55"/><circle cx="508" cy="840.6" r="2.55"/><circle cx="498.8" cy="849.3" r="2.55"/><circle cx="508.8" cy="858" r="2.55"/><circle cx="555" cy="866.7" r="2.55"/><circle cx="548.8" cy="875.4" r="2.55"/><circle cx="560" cy="884.1" r="2.55"/><circle cx="580.5" cy="892.8" r="2.55"/><circle cx="585.3" cy="901.5" r="2.55"/><circle cx="591.1" cy="910.2" r="2.55"/><circle cx="587.4" cy="918.9" r="2.55"/><circle cx="581.4" cy="927.6" r="2.55"/><circle cx="572" cy="936.3" r="2.55"/><circle cx="613" cy="945" r="2.55"/><circle cx="593" cy="953.6" r="2.55"/><circle cx="597" cy="962.3" r="2.55"/><circle cx="594" cy="971" r="2.55"/><circle cx="594" cy="979.7" r="2.55"/><circle cx="595.9" cy="988.4" r="2.55"/><circle cx="584" cy="997.1" r="2.55"/><circle cx="594.6" cy="1005.8" r="2.55"/><circle cx="584" cy="1014.5" r="2.55"/><circle cx="588" cy="1023.2" r="2.55"/></g>
<polyline points="515.9,592.8 513.7,597.2 518.5,601.5 507.4,605.9 509.9,610.2 511,614.6 520.5,618.9 517,623.3 519.7,627.6 519.4,632 507.4,640.7 520.5,649.4 529.5,658.1 531.6,666.7 528.4,675.4 517.5,684.1 506.5,692.8 500,701.5 500.5,710.2 500.5,718.9 476.5,727.6 478.8,736.3 478.8,745 472.5,753.7 475.5,762.4 486.2,771.1 494,779.8 501,788.5 492.5,797.2 478.8,805.9 493.8,814.5 521.2,823.2 510,831.9 505,840.6 499,849.3 532.5,858 555,866.7 564.5,875.4 586,884.1 597,892.8 575.2,901.5 584.2,910.2 582,918.9 577.9,927.6 577.3,936.3 587.4,945 586.4,953.6 610.4,962.3 598.3,971 600.2,979.7 561.6,988.4 582.3,997.1 580.2,1005.8 577.3,1014.5 593.5,1023.2" fill="none" stroke="#B5CF86" stroke-width="1" stroke-linejoin="round"/>
<g fill="#FFFF00" stroke="#C9C93A" stroke-width="0.6"><circle cx="515.9" cy="592.8" r="2.55"/><circle cx="513.7" cy="597.2" r="2.55"/><circle cx="518.5" cy="601.5" r="2.55"/><circle cx="507.4" cy="605.9" r="2.55"/><circle cx="509.9" cy="610.2" r="2.55"/><circle cx="511" cy="614.6" r="2.55"/><circle cx="520.5" cy="618.9" r="2.55"/><circle cx="517" cy="623.3" r="2.55"/><circle cx="519.7" cy="627.6" r="2.55"/><circle cx="519.4" cy="632" r="2.55"/><circle cx="507.4" cy="640.7" r="2.55"/><circle cx="520.5" cy="649.4" r="2.55"/><circle cx="529.5" cy="658.1" r="2.55"/><circle cx="531.6" cy="666.7" r="2.55"/><circle cx="528.4" cy="675.4" r="2.55"/><circle cx="517.5" cy="684.1" r="2.55"/><circle cx="506.5" cy="692.8" r="2.55"/><circle cx="500" cy="701.5" r="2.55"/><circle cx="500.5" cy="710.2" r="2.55"/><circle cx="500.5" cy="718.9" r="2.55"/><circle cx="476.5" cy="727.6" r="2.55"/><circle cx="478.8" cy="736.3" r="2.55"/><circle cx="478.8" cy="745" r="2.55"/><circle cx="472.5" cy="753.7" r="2.55"/><circle cx="475.5" cy="762.4" r="2.55"/><circle cx="486.2" cy="771.1" r="2.55"/><circle cx="494" cy="779.8" r="2.55"/><circle cx="501" cy="788.5" r="2.55"/><circle cx="492.5" cy="797.2" r="2.55"/><circle cx="478.8" cy="805.9" r="2.55"/><circle cx="493.8" cy="814.5" r="2.55"/><circle cx="521.2" cy="823.2" r="2.55"/><circle cx="510" cy="831.9" r="2.55"/><circle cx="505" cy="840.6" r="2.55"/><circle cx="499" cy="849.3" r="2.55"/><circle cx="532.5" cy="858" r="2.55"/><circle cx="555" cy="866.7" r="2.55"/><circle cx="564.5" cy="875.4" r="2.55"/><circle cx="586" cy="884.1" r="2.55"/><circle cx="597" cy="892.8" r="2.55"/><circle cx="575.2" cy="901.5" r="2.55"/><circle cx="584.2" cy="910.2" r="2.55"/><circle cx="582" cy="918.9" r="2.55"/><circle cx="577.9" cy="927.6" r="2.55"/><circle cx="577.3" cy="936.3" r="2.55"/><circle cx="587.4" cy="945" r="2.55"/><circle cx="586.4" cy="953.6" r="2.55"/><circle cx="610.4" cy="962.3" r="2.55"/><circle cx="598.3" cy="971" r="2.55"/><circle cx="600.2" cy="979.7" r="2.55"/><circle cx="561.6" cy="988.4" r="2.55"/><circle cx="582.3" cy="997.1" r="2.55"/><circle cx="580.2" cy="1005.8" r="2.55"/><circle cx="577.3" cy="1014.5" r="2.55"/><circle cx="593.5" cy="1023.2" r="2.55"/></g>
<polyline points="588.6,592.8 580.4,597.2 570.7,601.5 557.1,605.9 556.7,610.2 547.2,614.6 554,618.9 536.5,623.3 538.5,627.6 528.5,632 539,640.7 542.8,649.4 543.5,658.1 549.5,666.7 547.8,675.4 551,684.1 525.1,692.8 507.7,701.5 509,710.2 516,718.9 477,727.6 477.5,736.3 481.2,745 477.5,753.7 478,762.4 501.2,771.1 495.5,779.8 504.5,788.5 502,797.2 498,805.9 485,814.5 530,823.2 525,831.9 518,840.6 519.5,849.3 519.5,858 537.5,866.7 564.5,875.4 562.5,884.1 568.8,892.8 572.2,901.5 587.4,910.2 608.6,918.9 584.4,927.6 578,936.3 600,945 576.7,953.6 581.6,962.3 584,971 586,979.7 578.2,988.4 582,997.1 576.6,1005.8 587.4,1014.5 586,1023.2" fill="none" stroke="#8064A2" stroke-width="1" stroke-linejoin="round"/>
<g fill="#0A6FC2"><circle cx="588.6" cy="592.8" r="2.55"/><circle cx="580.4" cy="597.2" r="2.55"/><circle cx="570.7" cy="601.5" r="2.55"/><circle cx="557.1" cy="605.9" r="2.55"/><circle cx="556.7" cy="610.2" r="2.55"/><circle cx="547.2" cy="614.6" r="2.55"/><circle cx="554" cy="618.9" r="2.55"/><circle cx="536.5" cy="623.3" r="2.55"/><circle cx="538.5" cy="627.6" r="2.55"/><circle cx="528.5" cy="632" r="2.55"/><circle cx="539" cy="640.7" r="2.55"/><circle cx="542.8" cy="649.4" r="2.55"/><circle cx="543.5" cy="658.1" r="2.55"/><circle cx="549.5" cy="666.7" r="2.55"/><circle cx="547.8" cy="675.4" r="2.55"/><circle cx="551" cy="684.1" r="2.55"/><circle cx="525.1" cy="692.8" r="2.55"/><circle cx="507.7" cy="701.5" r="2.55"/><circle cx="509" cy="710.2" r="2.55"/><circle cx="516" cy="718.9" r="2.55"/><circle cx="477" cy="727.6" r="2.55"/><circle cx="477.5" cy="736.3" r="2.55"/><circle cx="481.2" cy="745" r="2.55"/><circle cx="477.5" cy="753.7" r="2.55"/><circle cx="478" cy="762.4" r="2.55"/><circle cx="501.2" cy="771.1" r="2.55"/><circle cx="495.5" cy="779.8" r="2.55"/><circle cx="504.5" cy="788.5" r="2.55"/><circle cx="502" cy="797.2" r="2.55"/><circle cx="498" cy="805.9" r="2.55"/><circle cx="485" cy="814.5" r="2.55"/><circle cx="530" cy="823.2" r="2.55"/><circle cx="525" cy="831.9" r="2.55"/><circle cx="518" cy="840.6" r="2.55"/><circle cx="519.5" cy="849.3" r="2.55"/><circle cx="519.5" cy="858" r="2.55"/><circle cx="537.5" cy="866.7" r="2.55"/><circle cx="564.5" cy="875.4" r="2.55"/><circle cx="562.5" cy="884.1" r="2.55"/><circle cx="568.8" cy="892.8" r="2.55"/><circle cx="572.2" cy="901.5" r="2.55"/><circle cx="587.4" cy="910.2" r="2.55"/><circle cx="608.6" cy="918.9" r="2.55"/><circle cx="584.4" cy="927.6" r="2.55"/><circle cx="578" cy="936.3" r="2.55"/><circle cx="600" cy="945" r="2.55"/><circle cx="576.7" cy="953.6" r="2.55"/><circle cx="581.6" cy="962.3" r="2.55"/><circle cx="584" cy="971" r="2.55"/><circle cx="586" cy="979.7" r="2.55"/><circle cx="578.2" cy="988.4" r="2.55"/><circle cx="582" cy="997.1" r="2.55"/><circle cx="576.6" cy="1005.8" r="2.55"/><circle cx="587.4" cy="1014.5" r="2.55"/><circle cx="586" cy="1023.2" r="2.55"/></g>
<polyline points="520.5,592.8 524.2,597.2 525.4,601.5 518.2,605.9 528,610.2 515.9,614.6 513.7,618.9 508.9,623.3 503.9,627.6 497.9,632 507.4,640.7 505.9,649.4 506.9,658.1 511.9,666.7 499.8,675.4 487.8,684.1 483.9,692.8 491.7,701.5 506.6,710.2 509.8,718.9 472.5,727.6 467,736.3 472,745 498,753.7 488,762.4 493.8,771.1 493.8,779.8 486.2,788.5 500,797.2 482.5,805.9 480.5,814.5 533.8,823.2 528,831.9 505,840.6 492.5,849.3 510.5,858 566.2,866.7 537,875.4 558.8,884.1 589.5,892.8 597.6,901.5 587.2,910.2 595,918.9 598.8,927.6 577.4,936.3 601.7,945 588.6,953.6 597,962.3 594,971 594.5,979.7 587.3,988.4 586.3,997.1 584,1005.8 582,1014.5 590,1023.2" fill="none" stroke="#4A7CC4" stroke-width="1.7" stroke-linejoin="round"/>
<g fill="#4A7CC4"><circle cx="520.5" cy="592.8" r="2.55"/><circle cx="524.2" cy="597.2" r="2.55"/><circle cx="525.4" cy="601.5" r="2.55"/><circle cx="518.2" cy="605.9" r="2.55"/><circle cx="528" cy="610.2" r="2.55"/><circle cx="515.9" cy="614.6" r="2.55"/><circle cx="513.7" cy="618.9" r="2.55"/><circle cx="508.9" cy="623.3" r="2.55"/><circle cx="503.9" cy="627.6" r="2.55"/><circle cx="497.9" cy="632" r="2.55"/><circle cx="507.4" cy="640.7" r="2.55"/><circle cx="505.9" cy="649.4" r="2.55"/><circle cx="506.9" cy="658.1" r="2.55"/><circle cx="511.9" cy="666.7" r="2.55"/><circle cx="499.8" cy="675.4" r="2.55"/><circle cx="487.8" cy="684.1" r="2.55"/><circle cx="483.9" cy="692.8" r="2.55"/><circle cx="491.7" cy="701.5" r="2.55"/><circle cx="506.6" cy="710.2" r="2.55"/><circle cx="509.8" cy="718.9" r="2.55"/><circle cx="472.5" cy="727.6" r="2.55"/><circle cx="467" cy="736.3" r="2.55"/><circle cx="472" cy="745" r="2.55"/><circle cx="498" cy="753.7" r="2.55"/><circle cx="488" cy="762.4" r="2.55"/><circle cx="493.8" cy="771.1" r="2.55"/><circle cx="493.8" cy="779.8" r="2.55"/><circle cx="486.2" cy="788.5" r="2.55"/><circle cx="500" cy="797.2" r="2.55"/><circle cx="482.5" cy="805.9" r="2.55"/><circle cx="480.5" cy="814.5" r="2.55"/><circle cx="533.8" cy="823.2" r="2.55"/><circle cx="528" cy="831.9" r="2.55"/><circle cx="505" cy="840.6" r="2.55"/><circle cx="492.5" cy="849.3" r="2.55"/><circle cx="510.5" cy="858" r="2.55"/><circle cx="566.2" cy="866.7" r="2.55"/><circle cx="537" cy="875.4" r="2.55"/><circle cx="558.8" cy="884.1" r="2.55"/><circle cx="589.5" cy="892.8" r="2.55"/><circle cx="597.6" cy="901.5" r="2.55"/><circle cx="587.2" cy="910.2" r="2.55"/><circle cx="595" cy="918.9" r="2.55"/><circle cx="598.8" cy="927.6" r="2.55"/><circle cx="577.4" cy="936.3" r="2.55"/><circle cx="601.7" cy="945" r="2.55"/><circle cx="588.6" cy="953.6" r="2.55"/><circle cx="597" cy="962.3" r="2.55"/><circle cx="594" cy="971" r="2.55"/><circle cx="594.5" cy="979.7" r="2.55"/><circle cx="587.3" cy="988.4" r="2.55"/><circle cx="586.3" cy="997.1" r="2.55"/><circle cx="584" cy="1005.8" r="2.55"/><circle cx="582" cy="1014.5" r="2.55"/><circle cx="590" cy="1023.2" r="2.55"/></g>
<polyline points="635.2,592.8 605.2,597.2 585.6,601.5 573.8,605.9 587.4,610.2 562.1,614.6 549.9,618.9 536.2,623.3 519.7,627.6 519.4,632 507.4,640.7 494.9,649.4 481.6,658.1 464.8,666.7 457.3,675.4 459.2,684.1 459.2,692.8 478,701.5 485.3,710.2 494.4,718.9 493.8,727.6 493.8,736.3 501.2,745 499.5,753.7 485.5,762.4 498,771.1 503.8,779.8 501.2,788.5 528.8,797.2 516.2,805.9 488.8,814.5 527,823.2 527.5,831.9 525.5,840.6 524.5,849.3 535.5,858 560.5,866.7 572,875.4 583.8,884.1 590,892.8 591.3,901.5 598.1,910.2 592.4,918.9 599.5,927.6 598.2,936.3 609.1,945 593.6,953.6 597.7,962.3 593.5,971 586,979.7 580.7,988.4 582.3,997.1 584.2,1005.8 580.9,1014.5 588.7,1023.2" fill="none" stroke="#4BACC6" stroke-width="1.9" stroke-linejoin="round"/>
<g fill="#4BACC6"><circle cx="635.2" cy="592.8" r="2.55"/><circle cx="605.2" cy="597.2" r="2.55"/><circle cx="585.6" cy="601.5" r="2.55"/><circle cx="573.8" cy="605.9" r="2.55"/><circle cx="587.4" cy="610.2" r="2.55"/><circle cx="562.1" cy="614.6" r="2.55"/><circle cx="549.9" cy="618.9" r="2.55"/><circle cx="536.2" cy="623.3" r="2.55"/><circle cx="519.7" cy="627.6" r="2.55"/><circle cx="519.4" cy="632" r="2.55"/><circle cx="507.4" cy="640.7" r="2.55"/><circle cx="494.9" cy="649.4" r="2.55"/><circle cx="481.6" cy="658.1" r="2.55"/><circle cx="464.8" cy="666.7" r="2.55"/><circle cx="457.3" cy="675.4" r="2.55"/><circle cx="459.2" cy="684.1" r="2.55"/><circle cx="459.2" cy="692.8" r="2.55"/><circle cx="478" cy="701.5" r="2.55"/><circle cx="485.3" cy="710.2" r="2.55"/><circle cx="494.4" cy="718.9" r="2.55"/><circle cx="493.8" cy="727.6" r="2.55"/><circle cx="493.8" cy="736.3" r="2.55"/><circle cx="501.2" cy="745" r="2.55"/><circle cx="499.5" cy="753.7" r="2.55"/><circle cx="485.5" cy="762.4" r="2.55"/><circle cx="498" cy="771.1" r="2.55"/><circle cx="503.8" cy="779.8" r="2.55"/><circle cx="501.2" cy="788.5" r="2.55"/><circle cx="528.8" cy="797.2" r="2.55"/><circle cx="516.2" cy="805.9" r="2.55"/><circle cx="488.8" cy="814.5" r="2.55"/><circle cx="527" cy="823.2" r="2.55"/><circle cx="527.5" cy="831.9" r="2.55"/><circle cx="525.5" cy="840.6" r="2.55"/><circle cx="524.5" cy="849.3" r="2.55"/><circle cx="535.5" cy="858" r="2.55"/><circle cx="560.5" cy="866.7" r="2.55"/><circle cx="572" cy="875.4" r="2.55"/><circle cx="583.8" cy="884.1" r="2.55"/><circle cx="590" cy="892.8" r="2.55"/><circle cx="591.3" cy="901.5" r="2.55"/><circle cx="598.1" cy="910.2" r="2.55"/><circle cx="592.4" cy="918.9" r="2.55"/><circle cx="599.5" cy="927.6" r="2.55"/><circle cx="598.2" cy="936.3" r="2.55"/><circle cx="609.1" cy="945" r="2.55"/><circle cx="593.6" cy="953.6" r="2.55"/><circle cx="597.7" cy="962.3" r="2.55"/><circle cx="593.5" cy="971" r="2.55"/><circle cx="586" cy="979.7" r="2.55"/><circle cx="580.7" cy="988.4" r="2.55"/><circle cx="582.3" cy="997.1" r="2.55"/><circle cx="584.2" cy="1005.8" r="2.55"/><circle cx="580.9" cy="1014.5" r="2.55"/><circle cx="588.7" cy="1023.2" r="2.55"/></g>
<line x1="408.8" y1="959.4" x2="427.1" y2="959.4" stroke="#E0A0A0" stroke-width="1.4"/>
<circle cx="418.2" cy="959.4" r="2.65" fill="#FF0000"/>
<text x="430.2" y="962.5" font-family='"Liberation Sans", sans-serif' font-size="9" fill="#595959" textLength="23.8" lengthAdjust="spacingAndGlyphs">201710</text>
<line x1="408.8" y1="972.5" x2="427.1" y2="972.5" stroke="#B5CF86" stroke-width="1.4"/>
<circle cx="418.2" cy="972.5" r="2.65" fill="#FFFF00" stroke="#C9C93A" stroke-width="0.6"/>
<text x="430.2" y="975.6" font-family='"Liberation Sans", sans-serif' font-size="9" fill="#595959" textLength="23.8" lengthAdjust="spacingAndGlyphs">201805</text>
<line x1="408.8" y1="985.4" x2="427.1" y2="985.4" stroke="#8064A2" stroke-width="1.4"/>
<circle cx="418.2" cy="985.4" r="2.65" fill="#0A6FC2"/>
<text x="430.2" y="988.5" font-family='"Liberation Sans", sans-serif' font-size="9" fill="#595959" textLength="23.8" lengthAdjust="spacingAndGlyphs">201810</text>
<line x1="408.8" y1="998.4" x2="427.1" y2="998.4" stroke="#4A7CC4" stroke-width="2.1"/>
<circle cx="418.2" cy="998.4" r="2.65" fill="#4A7CC4"/>
<text x="430.2" y="1001.5" font-family='"Liberation Sans", sans-serif' font-size="9" fill="#595959" textLength="23.8" lengthAdjust="spacingAndGlyphs">201905</text>
<line x1="408.8" y1="1011.5" x2="427.1" y2="1011.5" stroke="#4BACC6" stroke-width="2.3"/>
<circle cx="418.2" cy="1011.5" r="2.65" fill="#4BACC6"/>
<text x="430.2" y="1014.6" font-family='"Liberation Sans", sans-serif' font-size="9" fill="#595959" textLength="23.8" lengthAdjust="spacingAndGlyphs">201910</text>
<text x="132.5" y="1110" font-family='"Liberation Serif", serif' font-size="13" fill="#595959" textLength="105.4" lengthAdjust="spacingAndGlyphs">Soil moisture content</text>
<text y="1110" font-family='"Liberation Serif", serif' font-size="13.3" fill="#595959"><tspan x="245.4">(</tspan><tspan x="251.5" textLength="9.6" lengthAdjust="spacingAndGlyphs">%</tspan><tspan x="262.3">)</tspan></text>
<line x1="54.2" y1="1137.3" x2="311.8" y2="1137.3" stroke="#606060" stroke-width="1.5"/>
<line x1="54.7" y1="1136.8" x2="54.7" y2="1561.9" stroke="#606060" stroke-width="1.5"/>
<text x="54.7" y="1127.3" font-family='"Liberation Sans", sans-serif' font-size="9.4" fill="#666" text-anchor="middle" textLength="4.5" lengthAdjust="spacingAndGlyphs">0</text>
<line x1="118.9" y1="1137.3" x2="118.9" y2="1140.3" stroke="#606060" stroke-width="1.2"/>
<text x="118.9" y="1127.3" font-family='"Liberation Sans", sans-serif' font-size="9.4" fill="#666" text-anchor="middle" textLength="4.5" lengthAdjust="spacingAndGlyphs">5</text>
<line x1="183" y1="1137.3" x2="183" y2="1140.3" stroke="#606060" stroke-width="1.2"/>
<text x="183" y="1127.3" font-family='"Liberation Sans", sans-serif' font-size="9.4" fill="#666" text-anchor="middle" textLength="9" lengthAdjust="spacingAndGlyphs">10</text>
<line x1="247.1" y1="1137.3" x2="247.1" y2="1140.3" stroke="#606060" stroke-width="1.2"/>
<text x="247.1" y="1127.3" font-family='"Liberation Sans", sans-serif' font-size="9.4" fill="#666" text-anchor="middle" textLength="9" lengthAdjust="spacingAndGlyphs">15</text>
<line x1="311.3" y1="1137.3" x2="311.3" y2="1140.3" stroke="#606060" stroke-width="1.2"/>
<text x="311.3" y="1127.3" font-family='"Liberation Sans", sans-serif' font-size="9.4" fill="#666" text-anchor="middle" textLength="9" lengthAdjust="spacingAndGlyphs">20</text>
<text x="48.7" y="1140.5" font-family='"Liberation Sans", sans-serif' font-size="9.4" fill="#666" text-anchor="end" textLength="4.5" lengthAdjust="spacingAndGlyphs">0</text>
<line x1="54.7" y1="1179.7" x2="57.7" y2="1179.7" stroke="#606060" stroke-width="1.2"/>
<text x="48.7" y="1182.9" font-family='"Liberation Sans", sans-serif' font-size="9.4" fill="#666" text-anchor="end" textLength="13.5" lengthAdjust="spacingAndGlyphs">100</text>
<line x1="54.7" y1="1222.1" x2="57.7" y2="1222.1" stroke="#606060" stroke-width="1.2"/>
<text x="48.7" y="1225.3" font-family='"Liberation Sans", sans-serif' font-size="9.4" fill="#666" text-anchor="end" textLength="13.5" lengthAdjust="spacingAndGlyphs">200</text>
<line x1="54.7" y1="1264.5" x2="57.7" y2="1264.5" stroke="#606060" stroke-width="1.2"/>
<text x="48.7" y="1267.7" font-family='"Liberation Sans", sans-serif' font-size="9.4" fill="#666" text-anchor="end" textLength="13.5" lengthAdjust="spacingAndGlyphs">300</text>
<line x1="54.7" y1="1306.9" x2="57.7" y2="1306.9" stroke="#606060" stroke-width="1.2"/>
<text x="48.7" y="1310.1" font-family='"Liberation Sans", sans-serif' font-size="9.4" fill="#666" text-anchor="end" textLength="13.5" lengthAdjust="spacingAndGlyphs">400</text>
<line x1="54.7" y1="1349.3" x2="57.7" y2="1349.3" stroke="#606060" stroke-width="1.2"/>
<text x="48.7" y="1352.5" font-family='"Liberation Sans", sans-serif' font-size="9.4" fill="#666" text-anchor="end" textLength="13.5" lengthAdjust="spacingAndGlyphs">500</text>
<line x1="54.7" y1="1391.8" x2="57.7" y2="1391.8" stroke="#606060" stroke-width="1.2"/>
<text x="48.7" y="1395" font-family='"Liberation Sans", sans-serif' font-size="9.4" fill="#666" text-anchor="end" textLength="13.5" lengthAdjust="spacingAndGlyphs">600</text>
<line x1="54.7" y1="1434.2" x2="57.7" y2="1434.2" stroke="#606060" stroke-width="1.2"/>
<text x="48.7" y="1437.4" font-family='"Liberation Sans", sans-serif' font-size="9.4" fill="#666" text-anchor="end" textLength="13.5" lengthAdjust="spacingAndGlyphs">700</text>
<line x1="54.7" y1="1476.6" x2="57.7" y2="1476.6" stroke="#606060" stroke-width="1.2"/>
<text x="48.7" y="1479.8" font-family='"Liberation Sans", sans-serif' font-size="9.4" fill="#666" text-anchor="end" textLength="13.5" lengthAdjust="spacingAndGlyphs">800</text>
<line x1="54.7" y1="1519" x2="57.7" y2="1519" stroke="#606060" stroke-width="1.2"/>
<text x="48.7" y="1522.2" font-family='"Liberation Sans", sans-serif' font-size="9.4" fill="#666" text-anchor="end" textLength="13.5" lengthAdjust="spacingAndGlyphs">900</text>
<line x1="54.7" y1="1561.4" x2="57.7" y2="1561.4" stroke="#606060" stroke-width="1.2"/>
<text x="48.7" y="1564.6" font-family='"Liberation Sans", sans-serif' font-size="9.4" fill="#666" text-anchor="end" textLength="18" lengthAdjust="spacingAndGlyphs">1000</text>
<g transform="translate(22.1,1396.6) rotate(-90)" font-family='"Liberation Sans", sans-serif' font-size="11.8" fill="#666"><text x="0" y="0" textLength="54.2" lengthAdjust="spacingAndGlyphs">Soil depth</text><text x="61.4" y="0">(</text><text x="66.8" y="0" textLength="15.7" lengthAdjust="spacingAndGlyphs">cm</text><text x="85.5" y="0">)</text></g>
<text x="166.7" y="1586.9" font-family='"Liberation Serif", serif' font-size="14" fill="#404040" textLength="15.7" lengthAdjust="spacingAndGlyphs">PS</text>
<polyline points="277.1,1140.5 262.9,1144.8 271,1149 292,1153.3 293,1157.5 299.6,1161.7 301.4,1166 298.4,1170.2 289.3,1174.5 297.2,1178.7 310.4,1187.2 291.1,1195.7 265.3,1204.2 198.9,1212.6 164.8,1221.1 160.3,1229.6 142.9,1238.1 133.8,1246.6 133.2,1255 135,1263.5 138,1272 136.7,1280.5 135,1289 133,1297.5 131,1305.9 130,1314.4 128,1322.9 127,1331.4 125.6,1339.9 126,1348.3 127,1356.8 128,1365.3 129,1373.8 131.5,1382.3 131,1390.8 132,1399.2 134.3,1407.7 132.5,1416.2 131,1424.7 127.5,1433.2 124.5,1441.7 123.5,1450.1 125,1458.6 127,1467.1 137.7,1475.6 140.7,1484.1 138.6,1492.5 144.6,1501 141.9,1509.5 140.1,1518 143.1,1526.5 142.5,1535 148.6,1543.4 151.6,1551.9 154.2,1560.4" fill="none" stroke="#C0504D" stroke-width="1.6" stroke-linejoin="round"/>
<g fill="#FF0000"><circle cx="277.1" cy="1140.5" r="2.65"/><circle cx="262.9" cy="1144.8" r="2.65"/><circle cx="271" cy="1149" r="2.65"/><circle cx="292" cy="1153.3" r="2.65"/><circle cx="293" cy="1157.5" r="2.65"/><circle cx="299.6" cy="1161.7" r="2.65"/><circle cx="301.4" cy="1166" r="2.65"/><circle cx="298.4" cy="1170.2" r="2.65"/><circle cx="289.3" cy="1174.5" r="2.65"/><circle cx="297.2" cy="1178.7" r="2.65"/><circle cx="310.4" cy="1187.2" r="2.65"/><circle cx="291.1" cy="1195.7" r="2.65"/><circle cx="265.3" cy="1204.2" r="2.65"/><circle cx="198.9" cy="1212.6" r="2.65"/><circle cx="164.8" cy="1221.1" r="2.65"/><circle cx="160.3" cy="1229.6" r="2.65"/><circle cx="142.9" cy="1238.1" r="2.65"/><circle cx="133.8" cy="1246.6" r="2.65"/><circle cx="133.2" cy="1255" r="2.65"/><circle cx="135" cy="1263.5" r="2.65"/><circle cx="138" cy="1272" r="2.65"/><circle cx="136.7" cy="1280.5" r="2.65"/><circle cx="135" cy="1289" r="2.65"/><circle cx="133" cy="1297.5" r="2.65"/><circle cx="131" cy="1305.9" r="2.65"/><circle cx="130" cy="1314.4" r="2.65"/><circle cx="128" cy="1322.9" r="2.65"/><circle cx="127" cy="1331.4" r="2.65"/><circle cx="125.6" cy="1339.9" r="2.65"/><circle cx="126" cy="1348.3" r="2.65"/><circle cx="127" cy="1356.8" r="2.65"/><circle cx="128" cy="1365.3" r="2.65"/><circle cx="129" cy="1373.8" r="2.65"/><circle cx="131.5" cy="1382.3" r="2.65"/><circle cx="131" cy="1390.8" r="2.65"/><circle cx="132" cy="1399.2" r="2.65"/><circle cx="134.3" cy="1407.7" r="2.65"/><circle cx="132.5" cy="1416.2" r="2.65"/><circle cx="131" cy="1424.7" r="2.65"/><circle cx="127.5" cy="1433.2" r="2.65"/><circle cx="124.5" cy="1441.7" r="2.65"/><circle cx="123.5" cy="1450.1" r="2.65"/><circle cx="125" cy="1458.6" r="2.65"/><circle cx="127" cy="1467.1" r="2.65"/><circle cx="137.7" cy="1475.6" r="2.65"/><circle cx="140.7" cy="1484.1" r="2.65"/><circle cx="138.6" cy="1492.5" r="2.65"/><circle cx="144.6" cy="1501" r="2.65"/><circle cx="141.9" cy="1509.5" r="2.65"/><circle cx="140.1" cy="1518" r="2.65"/><circle cx="143.1" cy="1526.5" r="2.65"/><circle cx="142.5" cy="1535" r="2.65"/><circle cx="148.6" cy="1543.4" r="2.65"/><circle cx="151.6" cy="1551.9" r="2.65"/><circle cx="154.2" cy="1560.4" r="2.65"/></g>
<polyline points="180.3,1140.5 171.1,1144.8 183.3,1149 216.2,1153.3 216.2,1157.5 226.3,1161.7 216.2,1166 233.7,1170.2 235.8,1174.5 237.1,1178.7 243,1187.2 248,1195.7 230,1204.2 211,1212.6 192.9,1221.1 171.1,1229.6 177.9,1238.1 161.4,1246.6 151.6,1255 140.5,1263.5 138.5,1272 146.3,1280.5 139,1289 134.9,1297.5 139.1,1305.9 134.3,1314.4 131.5,1322.9 134,1331.4 137.9,1339.9 133.7,1348.3 131.9,1356.8 133.5,1365.3 130.1,1373.8 129.5,1382.3 138.3,1390.8 134,1399.2 131.5,1407.7 138.6,1416.2 142.9,1424.7 138.1,1433.2 138.6,1441.7 132.1,1450.1 127.3,1458.6 126,1467.1 126.6,1475.6 128.3,1484.1 127,1492.5 128,1501 131.8,1509.5 133,1518 139.8,1526.5 136,1535 138,1543.4 138,1551.9 142.5,1560.4" fill="none" stroke="#9BBB59" stroke-width="2" stroke-linejoin="round"/>
<g fill="#FFFF00" stroke="#C9C93A" stroke-width="0.6"><circle cx="180.3" cy="1140.5" r="2.65"/><circle cx="171.1" cy="1144.8" r="2.65"/><circle cx="183.3" cy="1149" r="2.65"/><circle cx="216.2" cy="1153.3" r="2.65"/><circle cx="216.2" cy="1157.5" r="2.65"/><circle cx="226.3" cy="1161.7" r="2.65"/><circle cx="216.2" cy="1166" r="2.65"/><circle cx="233.7" cy="1170.2" r="2.65"/><circle cx="235.8" cy="1174.5" r="2.65"/><circle cx="237.1" cy="1178.7" r="2.65"/><circle cx="243" cy="1187.2" r="2.65"/><circle cx="248" cy="1195.7" r="2.65"/><circle cx="230" cy="1204.2" r="2.65"/><circle cx="211" cy="1212.6" r="2.65"/><circle cx="192.9" cy="1221.1" r="2.65"/><circle cx="171.1" cy="1229.6" r="2.65"/><circle cx="177.9" cy="1238.1" r="2.65"/><circle cx="161.4" cy="1246.6" r="2.65"/><circle cx="151.6" cy="1255" r="2.65"/><circle cx="140.5" cy="1263.5" r="2.65"/><circle cx="138.5" cy="1272" r="2.65"/><circle cx="146.3" cy="1280.5" r="2.65"/><circle cx="139" cy="1289" r="2.65"/><circle cx="134.9" cy="1297.5" r="2.65"/><circle cx="139.1" cy="1305.9" r="2.65"/><circle cx="134.3" cy="1314.4" r="2.65"/><circle cx="131.5" cy="1322.9" r="2.65"/><circle cx="134" cy="1331.4" r="2.65"/><circle cx="137.9" cy="1339.9" r="2.65"/><circle cx="133.7" cy="1348.3" r="2.65"/><circle cx="131.9" cy="1356.8" r="2.65"/><circle cx="133.5" cy="1365.3" r="2.65"/><circle cx="130.1" cy="1373.8" r="2.65"/><circle cx="129.5" cy="1382.3" r="2.65"/><circle cx="138.3" cy="1390.8" r="2.65"/><circle cx="134" cy="1399.2" r="2.65"/><circle cx="131.5" cy="1407.7" r="2.65"/><circle cx="138.6" cy="1416.2" r="2.65"/><circle cx="142.9" cy="1424.7" r="2.65"/><circle cx="138.1" cy="1433.2" r="2.65"/><circle cx="138.6" cy="1441.7" r="2.65"/><circle cx="132.1" cy="1450.1" r="2.65"/><circle cx="127.3" cy="1458.6" r="2.65"/><circle cx="126" cy="1467.1" r="2.65"/><circle cx="126.6" cy="1475.6" r="2.65"/><circle cx="128.3" cy="1484.1" r="2.65"/><circle cx="127" cy="1492.5" r="2.65"/><circle cx="128" cy="1501" r="2.65"/><circle cx="131.8" cy="1509.5" r="2.65"/><circle cx="133" cy="1518" r="2.65"/><circle cx="139.8" cy="1526.5" r="2.65"/><circle cx="136" cy="1535" r="2.65"/><circle cx="138" cy="1543.4" r="2.65"/><circle cx="138" cy="1551.9" r="2.65"/><circle cx="142.5" cy="1560.4" r="2.65"/></g>
<polyline points="262.9,1140.5 265.9,1144.8 249.4,1149 253,1153.3 253,1157.5 247.8,1161.7 250.2,1166 251.1,1170.2 253.8,1174.5 254.4,1178.7 246.6,1187.2 227.7,1195.7 205.4,1204.2 183.2,1212.6 170.8,1221.1 156.4,1229.6 146.8,1238.1 147.4,1246.6 143,1255 140.5,1263.5 138.2,1272 133.9,1280.5 134.3,1289 129.1,1297.5 128,1305.9 127,1314.4 126,1322.9 133.5,1331.4 128,1339.9 121.7,1348.3 121.1,1356.8 123,1365.3 123,1373.8 122,1382.3 124.1,1390.8 137.5,1399.2 125,1407.7 127.9,1416.2 133.3,1424.7 124.3,1433.2 120.9,1441.7 121,1450.1 116.4,1458.6 120,1467.1 119.7,1475.6 124,1484.1 125,1492.5 130,1501 131.7,1509.5 133,1518 135,1526.5 137,1535 138,1543.4 139,1551.9 144,1560.4" fill="none" stroke="#8064A2" stroke-width="2" stroke-linejoin="round"/>
<g fill="#0A6FC2"><circle cx="262.9" cy="1140.5" r="2.65"/><circle cx="265.9" cy="1144.8" r="2.65"/><circle cx="249.4" cy="1149" r="2.65"/><circle cx="253" cy="1153.3" r="2.65"/><circle cx="253" cy="1157.5" r="2.65"/><circle cx="247.8" cy="1161.7" r="2.65"/><circle cx="250.2" cy="1166" r="2.65"/><circle cx="251.1" cy="1170.2" r="2.65"/><circle cx="253.8" cy="1174.5" r="2.65"/><circle cx="254.4" cy="1178.7" r="2.65"/><circle cx="246.6" cy="1187.2" r="2.65"/><circle cx="227.7" cy="1195.7" r="2.65"/><circle cx="205.4" cy="1204.2" r="2.65"/><circle cx="183.2" cy="1212.6" r="2.65"/><circle cx="170.8" cy="1221.1" r="2.65"/><circle cx="156.4" cy="1229.6" r="2.65"/><circle cx="146.8" cy="1238.1" r="2.65"/><circle cx="147.4" cy="1246.6" r="2.65"/><circle cx="143" cy="1255" r="2.65"/><circle cx="140.5" cy="1263.5" r="2.65"/><circle cx="138.2" cy="1272" r="2.65"/><circle cx="133.9" cy="1280.5" r="2.65"/><circle cx="134.3" cy="1289" r="2.65"/><circle cx="129.1" cy="1297.5" r="2.65"/><circle cx="128" cy="1305.9" r="2.65"/><circle cx="127" cy="1314.4" r="2.65"/><circle cx="126" cy="1322.9" r="2.65"/><circle cx="133.5" cy="1331.4" r="2.65"/><circle cx="128" cy="1339.9" r="2.65"/><circle cx="121.7" cy="1348.3" r="2.65"/><circle cx="121.1" cy="1356.8" r="2.65"/><circle cx="123" cy="1365.3" r="2.65"/><circle cx="123" cy="1373.8" r="2.65"/><circle cx="122" cy="1382.3" r="2.65"/><circle cx="124.1" cy="1390.8" r="2.65"/><circle cx="137.5" cy="1399.2" r="2.65"/><circle cx="125" cy="1407.7" r="2.65"/><circle cx="127.9" cy="1416.2" r="2.65"/><circle cx="133.3" cy="1424.7" r="2.65"/><circle cx="124.3" cy="1433.2" r="2.65"/><circle cx="120.9" cy="1441.7" r="2.65"/><circle cx="121" cy="1450.1" r="2.65"/><circle cx="116.4" cy="1458.6" r="2.65"/><circle cx="120" cy="1467.1" r="2.65"/><circle cx="119.7" cy="1475.6" r="2.65"/><circle cx="124" cy="1484.1" r="2.65"/><circle cx="125" cy="1492.5" r="2.65"/><circle cx="130" cy="1501" r="2.65"/><circle cx="131.7" cy="1509.5" r="2.65"/><circle cx="133" cy="1518" r="2.65"/><circle cx="135" cy="1526.5" r="2.65"/><circle cx="137" cy="1535" r="2.65"/><circle cx="138" cy="1543.4" r="2.65"/><circle cx="139" cy="1551.9" r="2.65"/><circle cx="144" cy="1560.4" r="2.65"/></g>
<polyline points="177.6,1140.5 208.4,1144.8 217.9,1149 211.4,1153.3 211.4,1157.5 230.4,1161.7 229.7,1166 231,1170.2 245.9,1174.5 241.2,1178.7 240.1,1187.2 235.8,1195.7 235.5,1204.2 230,1212.6 217.4,1221.1 196.7,1229.6 191.9,1238.1 193.7,1246.6 193.4,1255 178.4,1263.5 149.6,1272 141.5,1280.5 138.7,1289 130,1297.5 126.2,1305.9 125.9,1314.4 122.9,1322.9 124.1,1331.4 123,1339.9 121.7,1348.3 121.1,1356.8 121.1,1365.3 121.4,1373.8 119,1382.3 121.4,1390.8 118,1399.2 116.8,1407.7 116.4,1416.2 117.6,1424.7 116.7,1433.2 115.5,1441.7 119.7,1450.1 118,1458.6 117.6,1467.1 120,1475.6 122.1,1484.1 118.5,1492.5 141,1501 138.3,1509.5 136.5,1518 135,1526.5 139.3,1535 141.3,1543.4 140.1,1551.9 147,1560.4" fill="none" stroke="#4A7CC4" stroke-width="2" stroke-linejoin="round"/>
<g fill="#4A7CC4"><circle cx="177.6" cy="1140.5" r="2.65"/><circle cx="208.4" cy="1144.8" r="2.65"/><circle cx="217.9" cy="1149" r="2.65"/><circle cx="211.4" cy="1153.3" r="2.65"/><circle cx="211.4" cy="1157.5" r="2.65"/><circle cx="230.4" cy="1161.7" r="2.65"/><circle cx="229.7" cy="1166" r="2.65"/><circle cx="231" cy="1170.2" r="2.65"/><circle cx="245.9" cy="1174.5" r="2.65"/><circle cx="241.2" cy="1178.7" r="2.65"/><circle cx="240.1" cy="1187.2" r="2.65"/><circle cx="235.8" cy="1195.7" r="2.65"/><circle cx="235.5" cy="1204.2" r="2.65"/><circle cx="230" cy="1212.6" r="2.65"/><circle cx="217.4" cy="1221.1" r="2.65"/><circle cx="196.7" cy="1229.6" r="2.65"/><circle cx="191.9" cy="1238.1" r="2.65"/><circle cx="193.7" cy="1246.6" r="2.65"/><circle cx="193.4" cy="1255" r="2.65"/><circle cx="178.4" cy="1263.5" r="2.65"/><circle cx="149.6" cy="1272" r="2.65"/><circle cx="141.5" cy="1280.5" r="2.65"/><circle cx="138.7" cy="1289" r="2.65"/><circle cx="130" cy="1297.5" r="2.65"/><circle cx="126.2" cy="1305.9" r="2.65"/><circle cx="125.9" cy="1314.4" r="2.65"/><circle cx="122.9" cy="1322.9" r="2.65"/><circle cx="124.1" cy="1331.4" r="2.65"/><circle cx="123" cy="1339.9" r="2.65"/><circle cx="121.7" cy="1348.3" r="2.65"/><circle cx="121.1" cy="1356.8" r="2.65"/><circle cx="121.1" cy="1365.3" r="2.65"/><circle cx="121.4" cy="1373.8" r="2.65"/><circle cx="119" cy="1382.3" r="2.65"/><circle cx="121.4" cy="1390.8" r="2.65"/><circle cx="118" cy="1399.2" r="2.65"/><circle cx="116.8" cy="1407.7" r="2.65"/><circle cx="116.4" cy="1416.2" r="2.65"/><circle cx="117.6" cy="1424.7" r="2.65"/><circle cx="116.7" cy="1433.2" r="2.65"/><circle cx="115.5" cy="1441.7" r="2.65"/><circle cx="119.7" cy="1450.1" r="2.65"/><circle cx="118" cy="1458.6" r="2.65"/><circle cx="117.6" cy="1467.1" r="2.65"/><circle cx="120" cy="1475.6" r="2.65"/><circle cx="122.1" cy="1484.1" r="2.65"/><circle cx="118.5" cy="1492.5" r="2.65"/><circle cx="141" cy="1501" r="2.65"/><circle cx="138.3" cy="1509.5" r="2.65"/><circle cx="136.5" cy="1518" r="2.65"/><circle cx="135" cy="1526.5" r="2.65"/><circle cx="139.3" cy="1535" r="2.65"/><circle cx="141.3" cy="1543.4" r="2.65"/><circle cx="140.1" cy="1551.9" r="2.65"/><circle cx="147" cy="1560.4" r="2.65"/></g>
<polyline points="311.4,1144.8 297.4,1149 255,1153.3 222.2,1157.5 195.9,1161.7 185.7,1166 192.7,1170.2 199.9,1174.5 198.6,1178.7 190.4,1187.2 191.8,1195.7 185.4,1204.2 186.9,1212.6 184.4,1221.1 174.4,1229.6 153.4,1238.1 161.4,1246.6 142.6,1255 133.8,1263.5 130.2,1272 128.6,1280.5 128.9,1289 132.2,1297.5 131,1305.9 129.5,1314.4 127.1,1322.9 127.7,1331.4 129.5,1339.9 125.9,1348.3 125.9,1356.8 125.3,1365.3 124.7,1373.8 125,1382.3 128.9,1390.8 130.7,1399.2 125.3,1407.7 128.1,1416.2 131.1,1424.7 124.5,1433.2 124.5,1441.7 123.3,1450.1 123.6,1458.6 122.1,1467.1 126.5,1475.6 128.5,1484.1 126.9,1492.5 127.7,1501 129.3,1509.5 128.9,1518 130.9,1526.5 131.1,1535 136.5,1543.4 134.5,1551.9 137.7,1560.4" fill="none" stroke="#4BACC6" stroke-width="2" stroke-linejoin="round"/>
<g fill="#4BACC6"><circle cx="311.4" cy="1144.8" r="2.9"/><circle cx="297.4" cy="1149" r="2.9"/><circle cx="255" cy="1153.3" r="2.9"/><circle cx="222.2" cy="1157.5" r="2.9"/><circle cx="195.9" cy="1161.7" r="2.9"/><circle cx="185.7" cy="1166" r="2.9"/><circle cx="192.7" cy="1170.2" r="2.9"/><circle cx="199.9" cy="1174.5" r="2.9"/><circle cx="198.6" cy="1178.7" r="2.9"/><circle cx="190.4" cy="1187.2" r="2.9"/><circle cx="191.8" cy="1195.7" r="2.9"/><circle cx="185.4" cy="1204.2" r="2.9"/><circle cx="186.9" cy="1212.6" r="2.9"/><circle cx="184.4" cy="1221.1" r="2.9"/><circle cx="174.4" cy="1229.6" r="2.9"/><circle cx="153.4" cy="1238.1" r="2.9"/><circle cx="161.4" cy="1246.6" r="2.9"/><circle cx="142.6" cy="1255" r="2.9"/><circle cx="133.8" cy="1263.5" r="2.9"/><circle cx="130.2" cy="1272" r="2.9"/><circle cx="128.6" cy="1280.5" r="2.9"/><circle cx="128.9" cy="1289" r="2.9"/><circle cx="132.2" cy="1297.5" r="2.9"/><circle cx="131" cy="1305.9" r="2.9"/><circle cx="129.5" cy="1314.4" r="2.9"/><circle cx="127.1" cy="1322.9" r="2.9"/><circle cx="127.7" cy="1331.4" r="2.9"/><circle cx="129.5" cy="1339.9" r="2.9"/><circle cx="125.9" cy="1348.3" r="2.9"/><circle cx="125.9" cy="1356.8" r="2.9"/><circle cx="125.3" cy="1365.3" r="2.9"/><circle cx="124.7" cy="1373.8" r="2.9"/><circle cx="125" cy="1382.3" r="2.9"/><circle cx="128.9" cy="1390.8" r="2.9"/><circle cx="130.7" cy="1399.2" r="2.9"/><circle cx="125.3" cy="1407.7" r="2.9"/><circle cx="128.1" cy="1416.2" r="2.9"/><circle cx="131.1" cy="1424.7" r="2.9"/><circle cx="124.5" cy="1433.2" r="2.9"/><circle cx="124.5" cy="1441.7" r="2.9"/><circle cx="123.3" cy="1450.1" r="2.9"/><circle cx="123.6" cy="1458.6" r="2.9"/><circle cx="122.1" cy="1467.1" r="2.9"/><circle cx="126.5" cy="1475.6" r="2.9"/><circle cx="128.5" cy="1484.1" r="2.9"/><circle cx="126.9" cy="1492.5" r="2.9"/><circle cx="127.7" cy="1501" r="2.9"/><circle cx="129.3" cy="1509.5" r="2.9"/><circle cx="128.9" cy="1518" r="2.9"/><circle cx="130.9" cy="1526.5" r="2.9"/><circle cx="131.1" cy="1535" r="2.9"/><circle cx="136.5" cy="1543.4" r="2.9"/><circle cx="134.5" cy="1551.9" r="2.9"/><circle cx="137.7" cy="1560.4" r="2.9"/></g>
<line x1="230.8" y1="1481.6" x2="252.6" y2="1481.6" stroke="#C0504D" stroke-width="2.0"/>
<circle cx="241.5" cy="1481.6" r="2.75" fill="#FF0000"/>
<text x="255.3" y="1484.7" font-family='"Liberation Sans", sans-serif' font-size="9" fill="#595959" textLength="27.8" lengthAdjust="spacingAndGlyphs">201710</text>
<line x1="230.8" y1="1496.1" x2="252.6" y2="1496.1" stroke="#9BBB59" stroke-width="2.4"/>
<circle cx="241.5" cy="1496.1" r="2.75" fill="#FFFF00" stroke="#C9C93A" stroke-width="0.6"/>
<text x="255.3" y="1499.2" font-family='"Liberation Sans", sans-serif' font-size="9" fill="#595959" textLength="27.8" lengthAdjust="spacingAndGlyphs">201805</text>
<line x1="230.8" y1="1510.5" x2="252.6" y2="1510.5" stroke="#8064A2" stroke-width="2.4"/>
<circle cx="241.5" cy="1510.5" r="2.75" fill="#0A6FC2"/>
<text x="255.3" y="1513.6" font-family='"Liberation Sans", sans-serif' font-size="9" fill="#595959" textLength="27.8" lengthAdjust="spacingAndGlyphs">201810</text>
<line x1="230.8" y1="1524.9" x2="252.6" y2="1524.9" stroke="#4A7CC4" stroke-width="2.4"/>
<circle cx="241.5" cy="1524.9" r="2.75" fill="#4A7CC4"/>
<text x="255.3" y="1528" font-family='"Liberation Sans", sans-serif' font-size="9" fill="#595959" textLength="27.8" lengthAdjust="spacingAndGlyphs">201905</text>
<line x1="230.8" y1="1539.5" x2="252.6" y2="1539.5" stroke="#4BACC6" stroke-width="2.4"/>
<circle cx="241.5" cy="1539.5" r="3.0" fill="#4BACC6"/>
<text x="255.3" y="1542.6" font-family='"Liberation Sans", sans-serif' font-size="9" fill="#595959" textLength="27.8" lengthAdjust="spacingAndGlyphs">201910</text>
<text x="488" y="1104.7" font-family='"Liberation Serif", serif' font-size="11.7" fill="#595959" textLength="90.8" lengthAdjust="spacingAndGlyphs">Soil moisture content</text>
<text y="1104.7" font-family='"Liberation Serif", serif' font-size="11.9" fill="#595959"><tspan x="585.3">(</tspan><tspan x="590.6" textLength="8.3" lengthAdjust="spacingAndGlyphs">%</tspan><tspan x="599.9">)</tspan></text>
<line x1="400.7" y1="1131.8" x2="647.9" y2="1131.8" stroke="#606060" stroke-width="1.5"/>
<line x1="401.2" y1="1131.3" x2="401.2" y2="1567.3" stroke="#606060" stroke-width="1.5"/>
<text x="401.2" y="1123.5" font-family='"Liberation Sans", sans-serif' font-size="8.4" fill="#666" text-anchor="middle" textLength="3.9" lengthAdjust="spacingAndGlyphs">0</text>
<line x1="462.8" y1="1131.8" x2="462.8" y2="1134.8" stroke="#606060" stroke-width="1.2"/>
<text x="462.8" y="1123.5" font-family='"Liberation Sans", sans-serif' font-size="8.4" fill="#666" text-anchor="middle" textLength="3.9" lengthAdjust="spacingAndGlyphs">5</text>
<line x1="524.3" y1="1131.8" x2="524.3" y2="1134.8" stroke="#606060" stroke-width="1.2"/>
<text x="524.3" y="1123.5" font-family='"Liberation Sans", sans-serif' font-size="8.4" fill="#666" text-anchor="middle" textLength="7.8" lengthAdjust="spacingAndGlyphs">10</text>
<line x1="585.9" y1="1131.8" x2="585.9" y2="1134.8" stroke="#606060" stroke-width="1.2"/>
<text x="585.9" y="1123.5" font-family='"Liberation Sans", sans-serif' font-size="8.4" fill="#666" text-anchor="middle" textLength="7.8" lengthAdjust="spacingAndGlyphs">15</text>
<line x1="647.4" y1="1131.8" x2="647.4" y2="1134.8" stroke="#606060" stroke-width="1.2"/>
<text x="647.4" y="1123.5" font-family='"Liberation Sans", sans-serif' font-size="8.4" fill="#666" text-anchor="middle" textLength="7.8" lengthAdjust="spacingAndGlyphs">20</text>
<text x="395.8" y="1135" font-family='"Liberation Sans", sans-serif' font-size="8.4" fill="#666" text-anchor="end" textLength="3.9" lengthAdjust="spacingAndGlyphs">0</text>
<line x1="401.2" y1="1175.3" x2="404.2" y2="1175.3" stroke="#606060" stroke-width="1.2"/>
<text x="395.8" y="1178.5" font-family='"Liberation Sans", sans-serif' font-size="8.4" fill="#666" text-anchor="end" textLength="11.7" lengthAdjust="spacingAndGlyphs">100</text>
<line x1="401.2" y1="1218.8" x2="404.2" y2="1218.8" stroke="#606060" stroke-width="1.2"/>
<text x="395.8" y="1222" font-family='"Liberation Sans", sans-serif' font-size="8.4" fill="#666" text-anchor="end" textLength="11.7" lengthAdjust="spacingAndGlyphs">200</text>
<line x1="401.2" y1="1262.3" x2="404.2" y2="1262.3" stroke="#606060" stroke-width="1.2"/>
<text x="395.8" y="1265.5" font-family='"Liberation Sans", sans-serif' font-size="8.4" fill="#666" text-anchor="end" textLength="11.7" lengthAdjust="spacingAndGlyphs">300</text>
<line x1="401.2" y1="1305.8" x2="404.2" y2="1305.8" stroke="#606060" stroke-width="1.2"/>
<text x="395.8" y="1309" font-family='"Liberation Sans", sans-serif' font-size="8.4" fill="#666" text-anchor="end" textLength="11.7" lengthAdjust="spacingAndGlyphs">400</text>
<line x1="401.2" y1="1349.3" x2="404.2" y2="1349.3" stroke="#606060" stroke-width="1.2"/>
<text x="395.8" y="1352.5" font-family='"Liberation Sans", sans-serif' font-size="8.4" fill="#666" text-anchor="end" textLength="11.7" lengthAdjust="spacingAndGlyphs">500</text>
<line x1="401.2" y1="1392.8" x2="404.2" y2="1392.8" stroke="#606060" stroke-width="1.2"/>
<text x="395.8" y="1396" font-family='"Liberation Sans", sans-serif' font-size="8.4" fill="#666" text-anchor="end" textLength="11.7" lengthAdjust="spacingAndGlyphs">600</text>
<line x1="401.2" y1="1436.3" x2="404.2" y2="1436.3" stroke="#606060" stroke-width="1.2"/>
<text x="395.8" y="1439.5" font-family='"Liberation Sans", sans-serif' font-size="8.4" fill="#666" text-anchor="end" textLength="11.7" lengthAdjust="spacingAndGlyphs">700</text>
<line x1="401.2" y1="1479.8" x2="404.2" y2="1479.8" stroke="#606060" stroke-width="1.2"/>
<text x="395.8" y="1483" font-family='"Liberation Sans", sans-serif' font-size="8.4" fill="#666" text-anchor="end" textLength="11.7" lengthAdjust="spacingAndGlyphs">800</text>
<line x1="401.2" y1="1523.3" x2="404.2" y2="1523.3" stroke="#606060" stroke-width="1.2"/>
<text x="395.8" y="1526.5" font-family='"Liberation Sans", sans-serif' font-size="8.4" fill="#666" text-anchor="end" textLength="11.7" lengthAdjust="spacingAndGlyphs">900</text>
<line x1="401.2" y1="1566.8" x2="404.2" y2="1566.8" stroke="#606060" stroke-width="1.2"/>
<text x="395.8" y="1570" font-family='"Liberation Sans", sans-serif' font-size="8.4" fill="#666" text-anchor="end" textLength="15.6" lengthAdjust="spacingAndGlyphs">1000</text>
<g transform="translate(374,1390.2) rotate(-90)" font-family='"Liberation Serif", serif' font-size="11" fill="#595959"><text x="0" y="0" textLength="46.5" lengthAdjust="spacingAndGlyphs">Soil depth</text><text x="52.7" y="0">(</text><text x="57.3" y="0" textLength="13.5" lengthAdjust="spacingAndGlyphs">cm</text><text x="73.4" y="0">)</text></g>
<text x="513.1" y="1592.1" font-family='"Liberation Serif", serif' font-size="11" fill="#404040" textLength="12.9" lengthAdjust="spacingAndGlyphs">RP</text>
<polyline points="547.4,1136.1 557.4,1140.5 562.5,1144.8 562.4,1149.2 563.2,1153.5 562.9,1157.9 558.9,1162.2 552,1166.6 545.9,1171 548.4,1175.3 539.8,1184 514.8,1192.7 468.3,1201.4 451.8,1210.1 452,1218.8 451.4,1227.5 453,1236.2 454.4,1244.9 457.1,1253.6 458.1,1262.3 459.5,1271 453,1279.7 459,1288.4 459,1297.1 462,1305.8 466,1314.5 472,1323.2 478,1331.9 484.9,1340.6 487,1349.3 482.3,1358 481,1366.7 477.9,1375.4 481.1,1384.1 480,1392.8 513.6,1401.5 510,1410.2 506.8,1418.9 493.5,1427.6 495.3,1436.3 486.3,1445 474.4,1453.7 478,1462.4 490.4,1471.1 480,1479.8 470,1488.5 462.3,1497.2 459.5,1505.9 467.9,1514.6 495.9,1523.3 503.6,1532 507,1540.7 505,1549.4 491,1558.1 495,1566.8" fill="none" stroke="#C8504D" stroke-width="1.4" stroke-linejoin="round"/>
<g fill="#FF0000"><circle cx="547.4" cy="1136.1" r="2.55"/><circle cx="557.4" cy="1140.5" r="2.55"/><circle cx="562.5" cy="1144.8" r="2.55"/><circle cx="562.4" cy="1149.2" r="2.55"/><circle cx="563.2" cy="1153.5" r="2.55"/><circle cx="562.9" cy="1157.9" r="2.55"/><circle cx="558.9" cy="1162.2" r="2.55"/><circle cx="552" cy="1166.6" r="2.55"/><circle cx="545.9" cy="1171" r="2.55"/><circle cx="548.4" cy="1175.3" r="2.55"/><circle cx="539.8" cy="1184" r="2.55"/><circle cx="514.8" cy="1192.7" r="2.55"/><circle cx="468.3" cy="1201.4" r="2.55"/><circle cx="451.8" cy="1210.1" r="2.55"/><circle cx="452" cy="1218.8" r="2.55"/><circle cx="451.4" cy="1227.5" r="2.55"/><circle cx="453" cy="1236.2" r="2.55"/><circle cx="454.4" cy="1244.9" r="2.55"/><circle cx="457.1" cy="1253.6" r="2.55"/><circle cx="458.1" cy="1262.3" r="2.55"/><circle cx="459.5" cy="1271" r="2.55"/><circle cx="453" cy="1279.7" r="2.55"/><circle cx="459" cy="1288.4" r="2.55"/><circle cx="459" cy="1297.1" r="2.55"/><circle cx="462" cy="1305.8" r="2.55"/><circle cx="466" cy="1314.5" r="2.55"/><circle cx="472" cy="1323.2" r="2.55"/><circle cx="478" cy="1331.9" r="2.55"/><circle cx="484.9" cy="1340.6" r="2.55"/><circle cx="487" cy="1349.3" r="2.55"/><circle cx="482.3" cy="1358" r="2.55"/><circle cx="481" cy="1366.7" r="2.55"/><circle cx="477.9" cy="1375.4" r="2.55"/><circle cx="481.1" cy="1384.1" r="2.55"/><circle cx="480" cy="1392.8" r="2.55"/><circle cx="513.6" cy="1401.5" r="2.55"/><circle cx="510" cy="1410.2" r="2.55"/><circle cx="506.8" cy="1418.9" r="2.55"/><circle cx="493.5" cy="1427.6" r="2.55"/><circle cx="495.3" cy="1436.3" r="2.55"/><circle cx="486.3" cy="1445" r="2.55"/><circle cx="474.4" cy="1453.7" r="2.55"/><circle cx="478" cy="1462.4" r="2.55"/><circle cx="490.4" cy="1471.1" r="2.55"/><circle cx="480" cy="1479.8" r="2.55"/><circle cx="470" cy="1488.5" r="2.55"/><circle cx="462.3" cy="1497.2" r="2.55"/><circle cx="459.5" cy="1505.9" r="2.55"/><circle cx="467.9" cy="1514.6" r="2.55"/><circle cx="495.9" cy="1523.3" r="2.55"/><circle cx="503.6" cy="1532" r="2.55"/><circle cx="507" cy="1540.7" r="2.55"/><circle cx="505" cy="1549.4" r="2.55"/><circle cx="491" cy="1558.1" r="2.55"/><circle cx="495" cy="1566.8" r="2.55"/></g>
<polyline points="513.5,1136.1 514,1140.5 519.2,1144.8 508.3,1149.2 509,1153.5 507.8,1157.9 512.8,1162.2 512.8,1166.6 513.5,1171 518.3,1175.3 518.3,1184 522,1192.7 487.9,1201.4 495.6,1210.1 496.6,1218.8 485.1,1227.5 490.8,1236.2 467.9,1244.9 470,1253.6 474.9,1262.3 477.1,1271 461.7,1279.7 468,1288.4 477.9,1297.1 469.5,1305.8 483.9,1314.5 484.7,1323.2 483.9,1331.9 485.9,1340.6 494.8,1349.3 488,1358 480.3,1366.7 483.1,1375.4 498.1,1384.1 475.4,1392.8 517.2,1401.5 511.6,1410.2 511.2,1418.9 502.8,1427.6 490.4,1436.3 481.4,1445 481.8,1453.7 479.8,1462.4 479,1471.1 481,1479.8 473.4,1488.5 467.8,1497.2 468.3,1505.9 463.6,1514.6 478.3,1523.3 481.7,1532 506.7,1540.7 502.6,1549.4 503,1558.1 509.4,1566.8" fill="none" stroke="#9BBB59" stroke-width="1.3" stroke-linejoin="round"/>
<g fill="#FFFF00" stroke="#C9C93A" stroke-width="0.6"><circle cx="513.5" cy="1136.1" r="2.55"/><circle cx="514" cy="1140.5" r="2.55"/><circle cx="519.2" cy="1144.8" r="2.55"/><circle cx="508.3" cy="1149.2" r="2.55"/><circle cx="509" cy="1153.5" r="2.55"/><circle cx="507.8" cy="1157.9" r="2.55"/><circle cx="512.8" cy="1162.2" r="2.55"/><circle cx="512.8" cy="1166.6" r="2.55"/><circle cx="513.5" cy="1171" r="2.55"/><circle cx="518.3" cy="1175.3" r="2.55"/><circle cx="518.3" cy="1184" r="2.55"/><circle cx="522" cy="1192.7" r="2.55"/><circle cx="487.9" cy="1201.4" r="2.55"/><circle cx="495.6" cy="1210.1" r="2.55"/><circle cx="496.6" cy="1218.8" r="2.55"/><circle cx="485.1" cy="1227.5" r="2.55"/><circle cx="490.8" cy="1236.2" r="2.55"/><circle cx="467.9" cy="1244.9" r="2.55"/><circle cx="470" cy="1253.6" r="2.55"/><circle cx="474.9" cy="1262.3" r="2.55"/><circle cx="477.1" cy="1271" r="2.55"/><circle cx="461.7" cy="1279.7" r="2.55"/><circle cx="468" cy="1288.4" r="2.55"/><circle cx="477.9" cy="1297.1" r="2.55"/><circle cx="469.5" cy="1305.8" r="2.55"/><circle cx="483.9" cy="1314.5" r="2.55"/><circle cx="484.7" cy="1323.2" r="2.55"/><circle cx="483.9" cy="1331.9" r="2.55"/><circle cx="485.9" cy="1340.6" r="2.55"/><circle cx="494.8" cy="1349.3" r="2.55"/><circle cx="488" cy="1358" r="2.55"/><circle cx="480.3" cy="1366.7" r="2.55"/><circle cx="483.1" cy="1375.4" r="2.55"/><circle cx="498.1" cy="1384.1" r="2.55"/><circle cx="475.4" cy="1392.8" r="2.55"/><circle cx="517.2" cy="1401.5" r="2.55"/><circle cx="511.6" cy="1410.2" r="2.55"/><circle cx="511.2" cy="1418.9" r="2.55"/><circle cx="502.8" cy="1427.6" r="2.55"/><circle cx="490.4" cy="1436.3" r="2.55"/><circle cx="481.4" cy="1445" r="2.55"/><circle cx="481.8" cy="1453.7" r="2.55"/><circle cx="479.8" cy="1462.4" r="2.55"/><circle cx="479" cy="1471.1" r="2.55"/><circle cx="481" cy="1479.8" r="2.55"/><circle cx="473.4" cy="1488.5" r="2.55"/><circle cx="467.8" cy="1497.2" r="2.55"/><circle cx="468.3" cy="1505.9" r="2.55"/><circle cx="463.6" cy="1514.6" r="2.55"/><circle cx="478.3" cy="1523.3" r="2.55"/><circle cx="481.7" cy="1532" r="2.55"/><circle cx="506.7" cy="1540.7" r="2.55"/><circle cx="502.6" cy="1549.4" r="2.55"/><circle cx="503" cy="1558.1" r="2.55"/><circle cx="509.4" cy="1566.8" r="2.55"/></g>
<polyline points="564.8,1136.1 565.6,1140.5 557.3,1144.8 567,1149.2 558.8,1153.5 554,1157.9 556.3,1162.2 552.2,1166.6 551.9,1171 524.1,1175.3 546,1184 547.5,1192.7 457.4,1201.4 454.2,1210.1 457,1218.8 458,1227.5 462,1236.2 465,1244.9 467.1,1253.6 467.1,1262.3 466,1271 466.7,1279.7 468,1288.4 469.8,1297.1 472.3,1305.8 472.1,1314.5 480.7,1323.2 487.5,1331.9 491.2,1340.6 491.2,1349.3 493.1,1358 491,1366.7 490,1375.4 477.8,1384.1 485,1392.8 522.8,1401.5 511.6,1410.2 500,1418.9 490.6,1427.6 492,1436.3 497.6,1445 478.2,1453.7 479.5,1462.4 470.4,1471.1 466.8,1479.8 461.8,1488.5 455.8,1497.2 453.5,1505.9 485.1,1514.6 478.3,1523.3 499,1532 509.8,1540.7 505.7,1549.4 498.6,1558.1 496.5,1566.8" fill="none" stroke="#8064A2" stroke-width="1.3" stroke-linejoin="round"/>
<g fill="#0A6FC2"><circle cx="564.8" cy="1136.1" r="2.55"/><circle cx="565.6" cy="1140.5" r="2.55"/><circle cx="557.3" cy="1144.8" r="2.55"/><circle cx="567" cy="1149.2" r="2.55"/><circle cx="558.8" cy="1153.5" r="2.55"/><circle cx="554" cy="1157.9" r="2.55"/><circle cx="556.3" cy="1162.2" r="2.55"/><circle cx="552.2" cy="1166.6" r="2.55"/><circle cx="551.9" cy="1171" r="2.55"/><circle cx="524.1" cy="1175.3" r="2.55"/><circle cx="546" cy="1184" r="2.55"/><circle cx="547.5" cy="1192.7" r="2.55"/><circle cx="457.4" cy="1201.4" r="2.55"/><circle cx="454.2" cy="1210.1" r="2.55"/><circle cx="457" cy="1218.8" r="2.55"/><circle cx="458" cy="1227.5" r="2.55"/><circle cx="462" cy="1236.2" r="2.55"/><circle cx="465" cy="1244.9" r="2.55"/><circle cx="467.1" cy="1253.6" r="2.55"/><circle cx="467.1" cy="1262.3" r="2.55"/><circle cx="466" cy="1271" r="2.55"/><circle cx="466.7" cy="1279.7" r="2.55"/><circle cx="468" cy="1288.4" r="2.55"/><circle cx="469.8" cy="1297.1" r="2.55"/><circle cx="472.3" cy="1305.8" r="2.55"/><circle cx="472.1" cy="1314.5" r="2.55"/><circle cx="480.7" cy="1323.2" r="2.55"/><circle cx="487.5" cy="1331.9" r="2.55"/><circle cx="491.2" cy="1340.6" r="2.55"/><circle cx="491.2" cy="1349.3" r="2.55"/><circle cx="493.1" cy="1358" r="2.55"/><circle cx="491" cy="1366.7" r="2.55"/><circle cx="490" cy="1375.4" r="2.55"/><circle cx="477.8" cy="1384.1" r="2.55"/><circle cx="485" cy="1392.8" r="2.55"/><circle cx="522.8" cy="1401.5" r="2.55"/><circle cx="511.6" cy="1410.2" r="2.55"/><circle cx="500" cy="1418.9" r="2.55"/><circle cx="490.6" cy="1427.6" r="2.55"/><circle cx="492" cy="1436.3" r="2.55"/><circle cx="497.6" cy="1445" r="2.55"/><circle cx="478.2" cy="1453.7" r="2.55"/><circle cx="479.5" cy="1462.4" r="2.55"/><circle cx="470.4" cy="1471.1" r="2.55"/><circle cx="466.8" cy="1479.8" r="2.55"/><circle cx="461.8" cy="1488.5" r="2.55"/><circle cx="455.8" cy="1497.2" r="2.55"/><circle cx="453.5" cy="1505.9" r="2.55"/><circle cx="485.1" cy="1514.6" r="2.55"/><circle cx="478.3" cy="1523.3" r="2.55"/><circle cx="499" cy="1532" r="2.55"/><circle cx="509.8" cy="1540.7" r="2.55"/><circle cx="505.7" cy="1549.4" r="2.55"/><circle cx="498.6" cy="1558.1" r="2.55"/><circle cx="496.5" cy="1566.8" r="2.55"/></g>
<polyline points="511.3,1136.1 513.8,1140.5 523.5,1144.8 517,1149.2 504.5,1153.5 463,1157.9 466.2,1162.2 460,1166.6 457,1171 455.4,1175.3 459,1184 456.6,1192.7 455.6,1201.4 456.8,1210.1 458.3,1218.8 459.9,1227.5 461.4,1236.2 458.7,1244.9 462,1253.6 464,1262.3 465,1271 466,1279.7 466.7,1288.4 468,1297.1 470,1305.8 472,1314.5 477.1,1323.2 479.1,1331.9 480.1,1340.6 481,1349.3 485,1358 491.2,1366.7 501.5,1375.4 490.7,1384.1 484.5,1392.8 517.4,1401.5 519,1410.2 486.3,1418.9 486.8,1427.6 488.6,1436.3 492,1445 494.1,1453.7 479.8,1462.4 477.9,1471.1 482.9,1479.8 467.8,1488.5 467.8,1497.2 463.3,1505.9 475,1514.6 493.6,1523.3 490,1532 488.4,1540.7 487.7,1549.4 483.3,1558.1 483.3,1566.8" fill="none" stroke="#4A7CC4" stroke-width="1.8" stroke-linejoin="round"/>
<g fill="#4A7CC4"><circle cx="511.3" cy="1136.1" r="2.55"/><circle cx="513.8" cy="1140.5" r="2.55"/><circle cx="523.5" cy="1144.8" r="2.55"/><circle cx="517" cy="1149.2" r="2.55"/><circle cx="504.5" cy="1153.5" r="2.55"/><circle cx="463" cy="1157.9" r="2.55"/><circle cx="466.2" cy="1162.2" r="2.55"/><circle cx="460" cy="1166.6" r="2.55"/><circle cx="457" cy="1171" r="2.55"/><circle cx="455.4" cy="1175.3" r="2.55"/><circle cx="459" cy="1184" r="2.55"/><circle cx="456.6" cy="1192.7" r="2.55"/><circle cx="455.6" cy="1201.4" r="2.55"/><circle cx="456.8" cy="1210.1" r="2.55"/><circle cx="458.3" cy="1218.8" r="2.55"/><circle cx="459.9" cy="1227.5" r="2.55"/><circle cx="461.4" cy="1236.2" r="2.55"/><circle cx="458.7" cy="1244.9" r="2.55"/><circle cx="462" cy="1253.6" r="2.55"/><circle cx="464" cy="1262.3" r="2.55"/><circle cx="465" cy="1271" r="2.55"/><circle cx="466" cy="1279.7" r="2.55"/><circle cx="466.7" cy="1288.4" r="2.55"/><circle cx="468" cy="1297.1" r="2.55"/><circle cx="470" cy="1305.8" r="2.55"/><circle cx="472" cy="1314.5" r="2.55"/><circle cx="477.1" cy="1323.2" r="2.55"/><circle cx="479.1" cy="1331.9" r="2.55"/><circle cx="480.1" cy="1340.6" r="2.55"/><circle cx="481" cy="1349.3" r="2.55"/><circle cx="485" cy="1358" r="2.55"/><circle cx="491.2" cy="1366.7" r="2.55"/><circle cx="501.5" cy="1375.4" r="2.55"/><circle cx="490.7" cy="1384.1" r="2.55"/><circle cx="484.5" cy="1392.8" r="2.55"/><circle cx="517.4" cy="1401.5" r="2.55"/><circle cx="519" cy="1410.2" r="2.55"/><circle cx="486.3" cy="1418.9" r="2.55"/><circle cx="486.8" cy="1427.6" r="2.55"/><circle cx="488.6" cy="1436.3" r="2.55"/><circle cx="492" cy="1445" r="2.55"/><circle cx="494.1" cy="1453.7" r="2.55"/><circle cx="479.8" cy="1462.4" r="2.55"/><circle cx="477.9" cy="1471.1" r="2.55"/><circle cx="482.9" cy="1479.8" r="2.55"/><circle cx="467.8" cy="1488.5" r="2.55"/><circle cx="467.8" cy="1497.2" r="2.55"/><circle cx="463.3" cy="1505.9" r="2.55"/><circle cx="475" cy="1514.6" r="2.55"/><circle cx="493.6" cy="1523.3" r="2.55"/><circle cx="490" cy="1532" r="2.55"/><circle cx="488.4" cy="1540.7" r="2.55"/><circle cx="487.7" cy="1549.4" r="2.55"/><circle cx="483.3" cy="1558.1" r="2.55"/><circle cx="483.3" cy="1566.8" r="2.55"/></g>
<polyline points="590.9,1136.1 578.3,1140.5 567.4,1144.8 544.4,1149.2 522.2,1153.5 497,1157.9 462.5,1162.2 458,1166.6 454.5,1171 451,1175.3 447.1,1184 450.7,1192.7 444.8,1201.4 448.5,1210.1 451.3,1218.8 453.4,1227.5 453.2,1236.2 455.6,1244.9 460.7,1253.6 461.7,1262.3 463.8,1271 464.7,1279.7 464.7,1288.4 464.7,1297.1 464.7,1305.8 467,1314.5 466.2,1323.2 468.3,1331.9 473.5,1340.6 474.1,1349.3 488.7,1358 487.5,1366.7 487.5,1375.4 487.2,1384.1 489.9,1392.8 499,1401.5 501.2,1410.2 498,1418.9 493.6,1427.6 490.9,1436.3 489.9,1445 491.6,1453.7 495.9,1462.4 497.9,1471.1 493.8,1479.8 486.9,1488.5 482.1,1497.2 479.8,1505.9 478.3,1514.6 484.7,1523.3 486.8,1532 494.5,1540.7 491.4,1549.4 490.4,1558.1 492.5,1566.8" fill="none" stroke="#4BACC6" stroke-width="1.8" stroke-linejoin="round"/>
<g fill="#4BACC6"><circle cx="590.9" cy="1136.1" r="2.55"/><circle cx="578.3" cy="1140.5" r="2.55"/><circle cx="567.4" cy="1144.8" r="2.55"/><circle cx="544.4" cy="1149.2" r="2.55"/><circle cx="522.2" cy="1153.5" r="2.55"/><circle cx="497" cy="1157.9" r="2.55"/><circle cx="462.5" cy="1162.2" r="2.55"/><circle cx="458" cy="1166.6" r="2.55"/><circle cx="454.5" cy="1171" r="2.55"/><circle cx="451" cy="1175.3" r="2.55"/><circle cx="447.1" cy="1184" r="2.55"/><circle cx="450.7" cy="1192.7" r="2.55"/><circle cx="444.8" cy="1201.4" r="2.55"/><circle cx="448.5" cy="1210.1" r="2.55"/><circle cx="451.3" cy="1218.8" r="2.55"/><circle cx="453.4" cy="1227.5" r="2.55"/><circle cx="453.2" cy="1236.2" r="2.55"/><circle cx="455.6" cy="1244.9" r="2.55"/><circle cx="460.7" cy="1253.6" r="2.55"/><circle cx="461.7" cy="1262.3" r="2.55"/><circle cx="463.8" cy="1271" r="2.55"/><circle cx="464.7" cy="1279.7" r="2.55"/><circle cx="464.7" cy="1288.4" r="2.55"/><circle cx="464.7" cy="1297.1" r="2.55"/><circle cx="464.7" cy="1305.8" r="2.55"/><circle cx="467" cy="1314.5" r="2.55"/><circle cx="466.2" cy="1323.2" r="2.55"/><circle cx="468.3" cy="1331.9" r="2.55"/><circle cx="473.5" cy="1340.6" r="2.55"/><circle cx="474.1" cy="1349.3" r="2.55"/><circle cx="488.7" cy="1358" r="2.55"/><circle cx="487.5" cy="1366.7" r="2.55"/><circle cx="487.5" cy="1375.4" r="2.55"/><circle cx="487.2" cy="1384.1" r="2.55"/><circle cx="489.9" cy="1392.8" r="2.55"/><circle cx="499" cy="1401.5" r="2.55"/><circle cx="501.2" cy="1410.2" r="2.55"/><circle cx="498" cy="1418.9" r="2.55"/><circle cx="493.6" cy="1427.6" r="2.55"/><circle cx="490.9" cy="1436.3" r="2.55"/><circle cx="489.9" cy="1445" r="2.55"/><circle cx="491.6" cy="1453.7" r="2.55"/><circle cx="495.9" cy="1462.4" r="2.55"/><circle cx="497.9" cy="1471.1" r="2.55"/><circle cx="493.8" cy="1479.8" r="2.55"/><circle cx="486.9" cy="1488.5" r="2.55"/><circle cx="482.1" cy="1497.2" r="2.55"/><circle cx="479.8" cy="1505.9" r="2.55"/><circle cx="478.3" cy="1514.6" r="2.55"/><circle cx="484.7" cy="1523.3" r="2.55"/><circle cx="486.8" cy="1532" r="2.55"/><circle cx="494.5" cy="1540.7" r="2.55"/><circle cx="491.4" cy="1549.4" r="2.55"/><circle cx="490.4" cy="1558.1" r="2.55"/><circle cx="492.5" cy="1566.8" r="2.55"/></g>
<line x1="571.8" y1="1486.2" x2="590.7" y2="1486.2" stroke="#C8605D" stroke-width="1.7999999999999998"/>
<circle cx="581.2" cy="1486.2" r="2.65" fill="#FF0000"/>
<text x="593.7" y="1489.3" font-family='"Liberation Sans", sans-serif' font-size="9" fill="#595959" textLength="23.6" lengthAdjust="spacingAndGlyphs">201710</text>
<line x1="571.8" y1="1499.2" x2="590.7" y2="1499.2" stroke="#9BBB59" stroke-width="1.7000000000000002"/>
<circle cx="581.2" cy="1499.2" r="2.65" fill="#FFFF00" stroke="#C9C93A" stroke-width="0.6"/>
<text x="593.7" y="1502.3" font-family='"Liberation Sans", sans-serif' font-size="9" fill="#595959" textLength="23.6" lengthAdjust="spacingAndGlyphs">201805</text>
<line x1="571.8" y1="1512.1" x2="590.7" y2="1512.1" stroke="#8064A2" stroke-width="1.7000000000000002"/>
<circle cx="581.2" cy="1512.1" r="2.65" fill="#0A6FC2"/>
<text x="593.7" y="1515.2" font-family='"Liberation Sans", sans-serif' font-size="9" fill="#595959" textLength="23.6" lengthAdjust="spacingAndGlyphs">201810</text>
<line x1="571.8" y1="1525.2" x2="590.7" y2="1525.2" stroke="#4A7CC4" stroke-width="2.2"/>
<circle cx="581.2" cy="1525.2" r="2.65" fill="#4A7CC4"/>
<text x="593.7" y="1528.3" font-family='"Liberation Sans", sans-serif' font-size="9" fill="#595959" textLength="23.6" lengthAdjust="spacingAndGlyphs">201905</text>
<line x1="571.8" y1="1538.3" x2="590.7" y2="1538.3" stroke="#4BACC6" stroke-width="2.2"/>
<circle cx="581.2" cy="1538.3" r="2.65" fill="#4BACC6"/>
<text x="593.7" y="1541.4" font-family='"Liberation Sans", sans-serif' font-size="9" fill="#595959" textLength="23.6" lengthAdjust="spacingAndGlyphs">201910</text>
</svg>
</body></html>
